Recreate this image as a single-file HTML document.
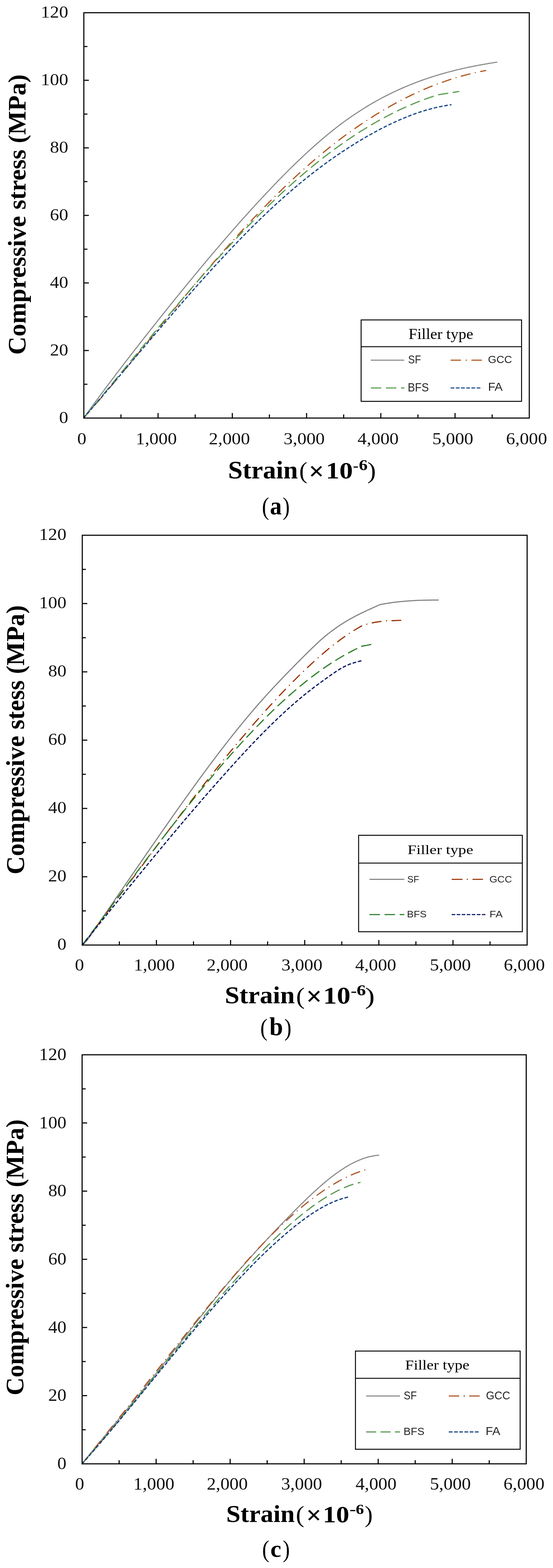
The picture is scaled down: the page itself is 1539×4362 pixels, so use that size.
<!DOCTYPE html>
<html><head><meta charset="utf-8"><title>Compressive stress-strain curves by filler type</title>
<style>html,body{margin:0;padding:0;background:#fff;}svg{display:block}</style></head>
<body><svg width="1539" height="4362" viewBox="0 0 1539 4362">
<rect width="1539" height="4362" fill="#fff"/>
<line x1="233.3" y1="1069.0" x2="243.3" y2="1069.0" stroke="#000" stroke-width="3"/>
<line x1="233.3" y1="975.1" x2="247.3" y2="975.1" stroke="#000" stroke-width="3"/>
<line x1="233.3" y1="881.1" x2="243.3" y2="881.1" stroke="#000" stroke-width="3"/>
<line x1="233.3" y1="787.1" x2="247.3" y2="787.1" stroke="#000" stroke-width="3"/>
<line x1="233.3" y1="693.2" x2="243.3" y2="693.2" stroke="#000" stroke-width="3"/>
<line x1="233.3" y1="599.2" x2="247.3" y2="599.2" stroke="#000" stroke-width="3"/>
<line x1="233.3" y1="505.2" x2="243.3" y2="505.2" stroke="#000" stroke-width="3"/>
<line x1="233.3" y1="411.3" x2="247.3" y2="411.3" stroke="#000" stroke-width="3"/>
<line x1="233.3" y1="317.3" x2="243.3" y2="317.3" stroke="#000" stroke-width="3"/>
<line x1="233.3" y1="223.3" x2="247.3" y2="223.3" stroke="#000" stroke-width="3"/>
<line x1="233.3" y1="129.4" x2="243.3" y2="129.4" stroke="#000" stroke-width="3"/>
<line x1="336.6" y1="1163.0" x2="336.6" y2="1153.0" stroke="#000" stroke-width="3"/>
<line x1="439.9" y1="1163.0" x2="439.9" y2="1149.0" stroke="#000" stroke-width="3"/>
<line x1="543.2" y1="1163.0" x2="543.2" y2="1153.0" stroke="#000" stroke-width="3"/>
<line x1="646.5" y1="1163.0" x2="646.5" y2="1149.0" stroke="#000" stroke-width="3"/>
<line x1="749.8" y1="1163.0" x2="749.8" y2="1153.0" stroke="#000" stroke-width="3"/>
<line x1="853.2" y1="1163.0" x2="853.2" y2="1149.0" stroke="#000" stroke-width="3"/>
<line x1="956.5" y1="1163.0" x2="956.5" y2="1153.0" stroke="#000" stroke-width="3"/>
<line x1="1059.8" y1="1163.0" x2="1059.8" y2="1149.0" stroke="#000" stroke-width="3"/>
<line x1="1163.1" y1="1163.0" x2="1163.1" y2="1153.0" stroke="#000" stroke-width="3"/>
<line x1="1266.4" y1="1163.0" x2="1266.4" y2="1149.0" stroke="#000" stroke-width="3"/>
<line x1="1369.7" y1="1163.0" x2="1369.7" y2="1153.0" stroke="#000" stroke-width="3"/>
<path d="M233.3,1162.0 C235.0,1159.7 240.0,1152.8 243.3,1148.2 C246.6,1143.6 250.0,1139.0 253.3,1134.5 C256.6,1130.0 260.0,1125.4 263.3,1120.9 C266.6,1116.4 270.0,1111.9 273.3,1107.4 C276.6,1102.9 280.0,1098.4 283.3,1093.9 C286.6,1089.4 290.0,1085.0 293.3,1080.5 C296.6,1076.0 300.0,1071.6 303.3,1067.2 C306.6,1062.8 310.0,1058.3 313.3,1053.9 C316.6,1049.5 320.0,1045.1 323.3,1040.7 C326.6,1036.3 330.0,1032.0 333.3,1027.6 C336.6,1023.2 340.0,1018.9 343.3,1014.5 C346.6,1010.1 350.0,1005.8 353.3,1001.5 C356.6,997.2 360.0,992.9 363.3,988.6 C366.6,984.3 370.0,980.0 373.3,975.7 C376.6,971.4 380.0,967.1 383.3,962.8 C386.6,958.5 390.0,954.2 393.3,950.0 C396.6,945.8 400.0,941.5 403.3,937.3 C406.6,933.1 410.0,928.8 413.3,924.6 C416.6,920.4 420.0,916.2 423.3,912.0 C426.6,907.8 430.0,903.6 433.3,899.4 C436.6,895.2 440.0,891.0 443.3,886.8 C446.6,882.6 450.0,878.5 453.3,874.3 C456.6,870.1 460.0,865.9 463.3,861.8 C466.6,857.6 470.0,853.5 473.3,849.4 C476.6,845.3 480.0,841.1 483.3,837.0 C486.6,832.9 490.0,828.7 493.3,824.6 C496.6,820.5 500.0,816.4 503.3,812.3 C506.6,808.2 510.0,804.2 513.3,800.1 C516.6,796.0 520.0,791.9 523.3,787.8 C526.6,783.7 530.0,779.7 533.3,775.7 C536.6,771.7 540.0,767.6 543.3,763.6 C546.6,759.6 550.0,755.5 553.3,751.5 C556.6,747.5 560.0,743.5 563.3,739.5 C566.6,735.5 570.0,731.5 573.3,727.5 C576.6,723.5 580.0,719.7 583.3,715.7 C586.6,711.8 590.0,707.7 593.3,703.8 C596.6,699.9 600.0,696.0 603.3,692.1 C606.6,688.2 610.0,684.3 613.3,680.4 C616.6,676.5 620.0,672.7 623.3,668.8 C626.6,664.9 630.0,661.1 633.3,657.2 C636.6,653.4 640.0,649.5 643.3,645.7 C646.6,641.9 650.0,638.1 653.3,634.3 C656.6,630.5 660.0,626.8 663.3,623.0 C666.6,619.2 670.0,615.5 673.3,611.7 C676.6,608.0 680.0,604.2 683.3,600.5 C686.6,596.8 690.0,593.1 693.3,589.4 C696.6,585.7 700.0,582.0 703.3,578.4 C706.6,574.8 710.0,571.1 713.3,567.5 C716.6,563.9 720.0,560.3 723.3,556.7 C726.6,553.1 730.0,549.5 733.3,545.9 C736.6,542.3 740.0,538.8 743.3,535.3 C746.6,531.8 750.0,528.2 753.3,524.7 C756.6,521.2 760.0,517.7 763.3,514.2 C766.6,510.7 770.0,507.3 773.3,503.9 C776.6,500.5 780.0,497.0 783.3,493.6 C786.6,490.2 790.0,486.9 793.3,483.5 C796.6,480.1 800.0,476.8 803.3,473.5 C806.6,470.2 810.0,466.9 813.3,463.6 C816.6,460.3 820.0,457.1 823.3,453.9 C826.6,450.7 830.0,447.5 833.3,444.3 C836.6,441.1 840.0,437.9 843.3,434.8 C846.6,431.7 850.0,428.6 853.3,425.5 C856.6,422.4 860.0,419.4 863.3,416.4 C866.6,413.4 870.0,410.4 873.3,407.4 C876.6,404.4 880.0,401.4 883.3,398.5 C886.6,395.6 890.0,392.8 893.3,389.9 C896.6,387.0 900.0,384.2 903.3,381.4 C906.6,378.6 910.0,375.8 913.3,373.1 C916.6,370.4 920.0,367.7 923.3,365.0 C926.6,362.3 930.0,359.7 933.3,357.1 C936.6,354.5 940.0,351.9 943.3,349.4 C946.6,346.8 950.0,344.3 953.3,341.8 C956.6,339.3 960.0,336.9 963.3,334.5 C966.6,332.1 970.0,329.7 973.3,327.4 C976.6,325.1 980.0,322.9 983.3,320.6 C986.6,318.4 990.0,316.1 993.3,313.9 C996.6,311.7 1000.0,309.5 1003.3,307.4 C1006.6,305.3 1010.0,303.2 1013.3,301.1 C1016.6,299.0 1020.0,296.9 1023.3,294.9 C1026.6,292.9 1030.0,290.9 1033.3,289.0 C1036.6,287.1 1040.0,285.2 1043.3,283.3 C1046.6,281.4 1050.0,279.5 1053.3,277.7 C1056.6,275.9 1060.0,274.1 1063.3,272.3 C1066.6,270.5 1070.0,268.8 1073.3,267.1 C1076.6,265.4 1080.0,263.8 1083.3,262.1 C1086.6,260.5 1090.0,258.8 1093.3,257.2 C1096.6,255.6 1100.0,254.1 1103.3,252.5 C1106.6,250.9 1110.0,249.4 1113.3,247.9 C1116.6,246.4 1120.0,244.9 1123.3,243.5 C1126.6,242.1 1130.0,240.7 1133.3,239.3 C1136.6,237.9 1140.0,236.5 1143.3,235.2 C1146.6,233.9 1150.0,232.6 1153.3,231.3 C1156.6,230.0 1160.0,228.7 1163.3,227.4 C1166.6,226.2 1170.0,225.0 1173.3,223.8 C1176.6,222.6 1180.0,221.3 1183.3,220.2 C1186.6,219.0 1190.0,218.0 1193.3,216.9 C1196.6,215.8 1200.0,214.7 1203.3,213.6 C1206.6,212.5 1210.0,211.4 1213.3,210.4 C1216.6,209.4 1220.0,208.4 1223.3,207.4 C1226.6,206.4 1230.0,205.4 1233.3,204.5 C1236.6,203.6 1240.0,202.6 1243.3,201.7 C1246.6,200.8 1250.0,200.0 1253.3,199.1 C1256.6,198.2 1260.0,197.3 1263.3,196.5 C1266.6,195.7 1270.0,194.8 1273.3,194.0 C1276.6,193.2 1280.0,192.5 1283.3,191.7 C1286.6,190.9 1290.0,190.1 1293.3,189.4 C1296.6,188.7 1300.0,188.0 1303.3,187.3 C1306.6,186.6 1310.0,185.9 1313.3,185.2 C1316.6,184.5 1320.0,183.8 1323.3,183.2 C1326.6,182.5 1330.0,181.9 1333.3,181.3 C1336.6,180.7 1340.0,180.1 1343.3,179.5 C1346.6,178.9 1350.0,178.4 1353.3,177.8 C1356.6,177.2 1360.0,176.7 1363.3,176.1 C1366.6,175.5 1370.1,175.0 1373.3,174.5 C1376.5,174.0 1381.0,173.3 1382.6,173.1" fill="none" stroke="#8a8a8a" stroke-width="3.0" stroke-linejoin="round" stroke-linecap="round"/>
<path d="M233.3,1162.0 C235.0,1160.1 240.0,1154.5 243.3,1150.7 C246.6,1146.9 250.0,1143.1 253.3,1139.3 C256.6,1135.5 260.0,1131.7 263.3,1127.9 C266.6,1124.1 270.0,1120.2 273.3,1116.3 C276.6,1112.4 280.0,1108.5 283.3,1104.6 C286.6,1100.7 290.0,1096.8 293.3,1092.9 C296.6,1089.0 300.0,1085.0 303.3,1081.1 C306.6,1077.1 310.0,1073.2 313.3,1069.2 C316.6,1065.2 320.0,1061.3 323.3,1057.3 C326.6,1053.3 330.0,1049.3 333.3,1045.3 C336.6,1041.3 340.0,1037.2 343.3,1033.2 C346.6,1029.2 350.0,1025.1 353.3,1021.1 C356.6,1017.1 360.0,1013.0 363.3,1009.0 C366.6,1005.0 370.0,1000.9 373.3,996.8 C376.6,992.7 380.0,988.7 383.3,984.6 C386.6,980.5 390.0,976.4 393.3,972.3 C396.6,968.2 400.0,964.2 403.3,960.1 C406.6,956.0 410.0,951.9 413.3,947.8 C416.6,943.7 420.0,939.7 423.3,935.6 C426.6,931.5 430.0,927.4 433.3,923.3 C436.6,919.2 440.0,915.1 443.3,911.0 C446.6,906.9 450.0,902.9 453.3,898.8 C456.6,894.7 460.0,890.6 463.3,886.5 C466.6,882.4 470.0,878.4 473.3,874.3 C476.6,870.2 480.0,866.1 483.3,862.1 C486.6,858.1 490.0,854.0 493.3,850.0 C496.6,846.0 500.0,841.9 503.3,837.9 C506.6,833.9 510.0,829.8 513.3,825.8 C516.6,821.8 520.0,817.8 523.3,813.8 C526.6,809.8 530.0,805.8 533.3,801.8 C536.6,797.8 540.0,793.8 543.3,789.9 C546.6,786.0 550.0,782.0 553.3,778.1 C556.6,774.2 560.0,770.2 563.3,766.3 C566.6,762.4 570.0,758.5 573.3,754.6 C576.6,750.7 580.0,746.9 583.3,743.0 C586.6,739.1 590.0,735.2 593.3,731.4 C596.6,727.5 600.0,723.7 603.3,719.9 C606.6,716.1 610.0,712.3 613.3,708.5 C616.6,704.7 620.0,701.0 623.3,697.2 C626.6,693.4 630.0,689.6 633.3,685.9 C636.6,682.2 640.0,678.5 643.3,674.8 C646.6,671.1 650.0,667.4 653.3,663.7 C656.6,660.0 660.0,656.4 663.3,652.7 C666.6,649.1 670.0,645.4 673.3,641.8 C676.6,638.2 680.0,634.6 683.3,631.0 C686.6,627.4 690.0,623.8 693.3,620.3 C696.6,616.8 700.0,613.2 703.3,609.7 C706.6,606.2 710.0,602.7 713.3,599.2 C716.6,595.7 720.0,592.2 723.3,588.8 C726.6,585.3 730.0,581.9 733.3,578.5 C736.6,575.1 740.0,571.7 743.3,568.3 C746.6,564.9 750.0,561.6 753.3,558.2 C756.6,554.9 760.0,551.5 763.3,548.2 C766.6,544.9 770.0,541.6 773.3,538.3 C776.6,535.0 780.0,531.8 783.3,528.6 C786.6,525.4 790.0,522.1 793.3,518.9 C796.6,515.7 800.0,512.5 803.3,509.4 C806.6,506.2 810.0,503.1 813.3,500.0 C816.6,496.9 820.0,493.9 823.3,490.8 C826.6,487.7 830.0,484.6 833.3,481.6 C836.6,478.6 840.0,475.6 843.3,472.6 C846.6,469.6 850.0,466.6 853.3,463.7 C856.6,460.8 860.0,457.9 863.3,455.0 C866.6,452.1 870.0,449.2 873.3,446.4 C876.6,443.5 880.0,440.7 883.3,437.9 C886.6,435.1 890.0,432.4 893.3,429.6 C896.6,426.8 900.0,424.0 903.3,421.3 C906.6,418.6 910.0,416.0 913.3,413.3 C916.6,410.6 920.0,407.9 923.3,405.3 C926.6,402.7 930.0,400.1 933.3,397.5 C936.6,394.9 940.0,392.4 943.3,389.9 C946.6,387.4 950.0,384.8 953.3,382.3 C956.6,379.8 960.0,377.3 963.3,374.9 C966.6,372.5 970.0,370.1 973.3,367.7 C976.6,365.3 980.0,362.9 983.3,360.5 C986.6,358.1 990.0,355.9 993.3,353.6 C996.6,351.3 1000.0,349.0 1003.3,346.7 C1006.6,344.4 1010.0,342.2 1013.3,340.0 C1016.6,337.8 1020.0,335.6 1023.3,333.4 C1026.6,331.2 1030.0,329.1 1033.3,327.0 C1036.6,324.9 1040.0,322.8 1043.3,320.7 C1046.6,318.6 1050.0,316.6 1053.3,314.6 C1056.6,312.6 1060.0,310.5 1063.3,308.5 C1066.6,306.5 1070.0,304.6 1073.3,302.7 C1076.6,300.8 1080.0,298.8 1083.3,296.9 C1086.6,295.0 1090.0,293.1 1093.3,291.3 C1096.6,289.5 1100.0,287.7 1103.3,285.9 C1106.6,284.1 1110.0,282.4 1113.3,280.6 C1116.6,278.9 1120.0,277.1 1123.3,275.4 C1126.6,273.7 1130.0,272.0 1133.3,270.4 C1136.6,268.8 1140.0,267.1 1143.3,265.5 C1146.6,263.9 1150.0,262.3 1153.3,260.7 C1156.6,259.1 1160.0,257.6 1163.3,256.1 C1166.6,254.6 1170.0,253.1 1173.3,251.6 C1176.6,250.1 1180.0,248.7 1183.3,247.3 C1186.6,245.9 1190.0,244.5 1193.3,243.1 C1196.6,241.7 1200.0,240.4 1203.3,239.1 C1206.6,237.8 1210.0,236.5 1213.3,235.2 C1216.6,233.9 1220.0,232.7 1223.3,231.5 C1226.6,230.3 1230.0,229.1 1233.3,227.9 C1236.6,226.7 1240.0,225.5 1243.3,224.4 C1246.6,223.3 1250.0,222.2 1253.3,221.1 C1256.6,220.0 1260.0,218.9 1263.3,217.9 C1266.6,216.9 1270.0,215.9 1273.3,214.9 C1276.6,213.9 1280.0,212.9 1283.3,212.0 C1286.6,211.1 1290.0,210.2 1293.3,209.3 C1296.6,208.4 1300.0,207.5 1303.3,206.7 C1306.6,205.8 1310.0,205.0 1313.3,204.2 C1316.6,203.4 1320.0,202.6 1323.3,201.9 C1326.6,201.2 1330.0,200.5 1333.3,199.8 C1336.6,199.1 1340.2,198.4 1343.3,197.8 C1346.4,197.2 1350.4,196.5 1351.8,196.2" fill="none" stroke="#b0531c" stroke-width="3.2" stroke-linejoin="round" stroke-linecap="round" stroke-dasharray="24.8 15.2 0.1 15.2"/>
<path d="M233.3,1162.0 C235.0,1160.0 240.0,1154.1 243.3,1150.1 C246.6,1146.1 250.0,1142.2 253.3,1138.2 C256.6,1134.2 260.0,1130.2 263.3,1126.2 C266.6,1122.2 270.0,1118.2 273.3,1114.2 C276.6,1110.2 280.0,1106.2 283.3,1102.2 C286.6,1098.2 290.0,1094.1 293.3,1090.1 C296.6,1086.1 300.0,1082.1 303.3,1078.1 C306.6,1074.1 310.0,1070.0 313.3,1065.9 C316.6,1061.9 320.0,1057.8 323.3,1053.8 C326.6,1049.8 330.0,1045.8 333.3,1041.7 C336.6,1037.7 340.0,1033.5 343.3,1029.5 C346.6,1025.5 350.0,1021.4 353.3,1017.4 C356.6,1013.4 360.0,1009.2 363.3,1005.2 C366.6,1001.2 370.0,997.2 373.3,993.1 C376.6,989.0 380.0,985.0 383.3,980.9 C386.6,976.8 390.0,972.8 393.3,968.8 C396.6,964.8 400.0,960.6 403.3,956.6 C406.6,952.6 410.0,948.5 413.3,944.5 C416.6,940.5 420.0,936.4 423.3,932.4 C426.6,928.4 430.0,924.3 433.3,920.3 C436.6,916.3 440.0,912.3 443.3,908.3 C446.6,904.3 450.0,900.3 453.3,896.3 C456.6,892.3 460.0,888.3 463.3,884.3 C466.6,880.3 470.0,876.3 473.3,872.3 C476.6,868.3 480.0,864.4 483.3,860.4 C486.6,856.4 490.0,852.5 493.3,848.5 C496.6,844.5 500.0,840.6 503.3,836.7 C506.6,832.8 510.0,828.9 513.3,825.0 C516.6,821.1 520.0,817.2 523.3,813.3 C526.6,809.4 530.0,805.5 533.3,801.6 C536.6,797.7 540.0,793.9 543.3,790.0 C546.6,786.1 550.0,782.3 553.3,778.5 C556.6,774.7 560.0,770.9 563.3,767.1 C566.6,763.3 570.0,759.5 573.3,755.7 C576.6,751.9 580.0,748.1 583.3,744.4 C586.6,740.6 590.0,736.9 593.3,733.2 C596.6,729.5 600.0,725.7 603.3,722.0 C606.6,718.3 610.0,714.7 613.3,711.0 C616.6,707.3 620.0,703.6 623.3,700.0 C626.6,696.4 630.0,692.8 633.3,689.2 C636.6,685.6 640.0,682.0 643.3,678.4 C646.6,674.8 650.0,671.2 653.3,667.7 C656.6,664.2 660.0,660.6 663.3,657.1 C666.6,653.6 670.0,650.1 673.3,646.6 C676.6,643.1 680.0,639.7 683.3,636.2 C686.6,632.8 690.0,629.3 693.3,625.9 C696.6,622.5 700.0,619.1 703.3,615.7 C706.6,612.3 710.0,609.0 713.3,605.6 C716.6,602.2 720.0,598.9 723.3,595.6 C726.6,592.3 730.0,589.1 733.3,585.8 C736.6,582.5 740.0,579.2 743.3,576.0 C746.6,572.8 750.0,569.5 753.3,566.3 C756.6,563.1 760.0,560.0 763.3,556.8 C766.6,553.6 770.0,550.4 773.3,547.3 C776.6,544.2 780.0,541.1 783.3,538.0 C786.6,534.9 790.0,531.8 793.3,528.8 C796.6,525.8 800.0,522.8 803.3,519.8 C806.6,516.8 810.0,513.8 813.3,510.8 C816.6,507.8 820.0,504.9 823.3,502.0 C826.6,499.1 830.0,496.2 833.3,493.3 C836.6,490.4 840.0,487.6 843.3,484.7 C846.6,481.8 850.0,479.0 853.3,476.2 C856.6,473.4 860.0,470.6 863.3,467.9 C866.6,465.1 870.0,462.4 873.3,459.7 C876.6,457.0 880.0,454.4 883.3,451.7 C886.6,449.0 890.0,446.3 893.3,443.7 C896.6,441.1 900.0,438.6 903.3,436.0 C906.6,433.4 910.0,430.8 913.3,428.3 C916.6,425.8 920.0,423.3 923.3,420.8 C926.6,418.3 930.0,415.8 933.3,413.4 C936.6,411.0 940.0,408.6 943.3,406.2 C946.6,403.8 950.0,401.5 953.3,399.1 C956.6,396.8 960.0,394.4 963.3,392.1 C966.6,389.8 970.0,387.5 973.3,385.3 C976.6,383.1 980.0,380.9 983.3,378.7 C986.6,376.5 990.0,374.3 993.3,372.1 C996.6,369.9 1000.0,367.8 1003.3,365.7 C1006.6,363.6 1010.0,361.6 1013.3,359.5 C1016.6,357.4 1020.0,355.4 1023.3,353.4 C1026.6,351.4 1030.0,349.4 1033.3,347.4 C1036.6,345.4 1040.0,343.5 1043.3,341.6 C1046.6,339.7 1050.0,337.9 1053.3,336.0 C1056.6,334.1 1060.0,332.2 1063.3,330.4 C1066.6,328.6 1070.0,326.9 1073.3,325.1 C1076.6,323.3 1080.0,321.5 1083.3,319.8 C1086.6,318.1 1090.0,316.4 1093.3,314.7 C1096.6,313.0 1100.0,311.4 1103.3,309.8 C1106.6,308.2 1110.0,306.6 1113.3,305.0 C1116.6,303.4 1120.0,301.9 1123.3,300.4 C1126.6,298.9 1130.0,297.4 1133.3,295.9 C1136.6,294.4 1140.0,293.0 1143.3,291.6 C1146.6,290.2 1150.0,288.8 1153.3,287.4 C1156.6,286.0 1160.0,284.7 1163.3,283.4 C1166.6,282.1 1170.0,280.8 1173.3,279.5 C1176.6,278.2 1180.0,277.0 1183.3,275.8 C1186.6,274.6 1190.0,273.4 1193.3,272.2 C1196.6,271.0 1200.0,269.9 1203.3,268.8 C1206.6,267.7 1210.7,266.3 1213.3,265.5 C1215.9,264.7 1216.2,264.4 1218.8,263.8 C1221.4,263.2 1225.5,262.7 1228.8,262.2 C1232.1,261.7 1235.5,261.1 1238.8,260.6 C1242.1,260.1 1245.5,259.5 1248.8,259.0 C1252.1,258.5 1255.5,257.9 1258.8,257.4 C1262.1,256.9 1265.8,256.3 1268.8,255.8 C1271.8,255.3 1275.6,254.7 1277.0,254.5" fill="none" stroke="#5b9b4f" stroke-width="3.2" stroke-linejoin="round" stroke-linecap="round" stroke-dasharray="25.8 15.2"/>
<path d="M233.3,1162.0 C235.0,1160.1 240.0,1154.3 243.3,1150.4 C246.6,1146.5 250.0,1142.7 253.3,1138.8 C256.6,1134.9 260.0,1131.1 263.3,1127.2 C266.6,1123.3 270.0,1119.4 273.3,1115.5 C276.6,1111.6 280.0,1107.8 283.3,1103.9 C286.6,1100.0 290.0,1096.0 293.3,1092.1 C296.6,1088.2 300.0,1084.3 303.3,1080.4 C306.6,1076.5 310.0,1072.5 313.3,1068.6 C316.6,1064.7 320.0,1060.8 323.3,1056.9 C326.6,1053.0 330.0,1049.0 333.3,1045.1 C336.6,1041.2 340.0,1037.2 343.3,1033.3 C346.6,1029.4 350.0,1025.4 353.3,1021.5 C356.6,1017.6 360.0,1013.6 363.3,1009.7 C366.6,1005.8 370.0,1001.8 373.3,997.9 C376.6,994.0 380.0,990.0 383.3,986.1 C386.6,982.2 390.0,978.2 393.3,974.3 C396.6,970.4 400.0,966.5 403.3,962.6 C406.6,958.7 410.0,954.7 413.3,950.8 C416.6,946.9 420.0,943.0 423.3,939.1 C426.6,935.2 430.0,931.2 433.3,927.3 C436.6,923.4 440.0,919.5 443.3,915.6 C446.6,911.7 450.0,907.9 453.3,904.0 C456.6,900.1 460.0,896.2 463.3,892.3 C466.6,888.4 470.0,884.6 473.3,880.7 C476.6,876.9 480.0,873.1 483.3,869.2 C486.6,865.4 490.0,861.5 493.3,857.6 C496.6,853.8 500.0,849.9 503.3,846.1 C506.6,842.3 510.0,838.5 513.3,834.7 C516.6,830.9 520.0,827.1 523.3,823.3 C526.6,819.5 530.0,815.7 533.3,811.9 C536.6,808.1 540.0,804.4 543.3,800.6 C546.6,796.9 550.0,793.1 553.3,789.4 C556.6,785.7 560.0,781.9 563.3,778.2 C566.6,774.5 570.0,770.8 573.3,767.1 C576.6,763.4 580.0,759.8 583.3,756.1 C586.6,752.4 590.0,748.8 593.3,745.1 C596.6,741.5 600.0,737.8 603.3,734.2 C606.6,730.6 610.0,727.0 613.3,723.4 C616.6,719.8 620.0,716.3 623.3,712.7 C626.6,709.1 630.0,705.5 633.3,702.0 C636.6,698.5 640.0,695.0 643.3,691.5 C646.6,688.0 650.0,684.5 653.3,681.0 C656.6,677.5 660.0,674.1 663.3,670.6 C666.6,667.1 670.0,663.7 673.3,660.3 C676.6,656.9 680.0,653.5 683.3,650.1 C686.6,646.7 690.0,643.4 693.3,640.0 C696.6,636.6 700.0,633.3 703.3,630.0 C706.6,626.7 710.0,623.5 713.3,620.2 C716.6,616.9 720.0,613.6 723.3,610.4 C726.6,607.2 730.0,604.0 733.3,600.8 C736.6,597.6 740.0,594.4 743.3,591.2 C746.6,588.0 750.0,584.9 753.3,581.8 C756.6,578.7 760.0,575.7 763.3,572.6 C766.6,569.5 770.0,566.4 773.3,563.4 C776.6,560.4 780.0,557.4 783.3,554.4 C786.6,551.4 790.0,548.5 793.3,545.5 C796.6,542.5 800.0,539.6 803.3,536.7 C806.6,533.8 810.0,531.0 813.3,528.1 C816.6,525.2 820.0,522.4 823.3,519.6 C826.6,516.8 830.0,514.0 833.3,511.3 C836.6,508.6 840.0,505.8 843.3,503.1 C846.6,500.4 850.0,497.7 853.3,495.0 C856.6,492.3 860.0,489.7 863.3,487.1 C866.6,484.5 870.0,481.9 873.3,479.3 C876.6,476.7 880.0,474.1 883.3,471.6 C886.6,469.1 890.0,466.6 893.3,464.1 C896.6,461.6 900.0,459.1 903.3,456.7 C906.6,454.2 910.0,451.8 913.3,449.4 C916.6,447.0 920.0,444.6 923.3,442.3 C926.6,440.0 930.0,437.6 933.3,435.3 C936.6,433.0 940.0,430.8 943.3,428.5 C946.6,426.2 950.0,423.9 953.3,421.7 C956.6,419.5 960.0,417.4 963.3,415.2 C966.6,413.0 970.0,410.8 973.3,408.7 C976.6,406.6 980.0,404.5 983.3,402.4 C986.6,400.3 990.0,398.2 993.3,396.2 C996.6,394.2 1000.0,392.2 1003.3,390.2 C1006.6,388.2 1010.0,386.2 1013.3,384.3 C1016.6,382.4 1020.0,380.4 1023.3,378.5 C1026.6,376.6 1030.0,374.8 1033.3,372.9 C1036.6,371.0 1040.0,369.2 1043.3,367.4 C1046.6,365.6 1050.0,363.8 1053.3,362.0 C1056.6,360.2 1060.0,358.5 1063.3,356.8 C1066.6,355.1 1070.0,353.4 1073.3,351.7 C1076.6,350.0 1080.0,348.4 1083.3,346.8 C1086.6,345.2 1090.0,343.7 1093.3,342.1 C1096.6,340.6 1100.0,339.0 1103.3,337.5 C1106.6,336.0 1110.0,334.4 1113.3,333.0 C1116.6,331.6 1120.0,330.2 1123.3,328.8 C1126.6,327.4 1130.0,326.0 1133.3,324.7 C1136.6,323.4 1140.0,322.1 1143.3,320.8 C1146.6,319.5 1150.0,318.3 1153.3,317.1 C1156.6,315.9 1160.0,314.7 1163.3,313.6 C1166.6,312.5 1170.0,311.4 1173.3,310.3 C1176.6,309.2 1180.0,308.2 1183.3,307.2 C1186.6,306.2 1190.0,305.3 1193.3,304.4 C1196.6,303.5 1200.0,302.6 1203.3,301.7 C1206.6,300.8 1210.0,300.0 1213.3,299.2 C1216.6,298.4 1220.0,297.7 1223.3,297.0 C1226.6,296.3 1230.0,295.6 1233.3,295.0 C1236.6,294.4 1239.7,293.9 1243.3,293.3 C1246.9,292.7 1253.0,291.8 1255.0,291.5" fill="none" stroke="#1b4a8a" stroke-width="3.4" stroke-linejoin="round" stroke-linecap="round" stroke-dasharray="7.2 7.8"/>
<rect x="233.3" y="35.4" width="1239.7" height="1127.6" fill="none" stroke="#000" stroke-width="3"/>
<text transform="translate(164.41 1176.84) scale(1.0750 1)" font-family="'Liberation Serif','Times New Roman',serif" font-weight="normal" font-size="47.30" fill="#111">0</text>
<text transform="translate(138.99 988.91) scale(1.0750 1)" font-family="'Liberation Serif','Times New Roman',serif" font-weight="normal" font-size="47.30" fill="#111">20</text>
<text transform="translate(138.99 800.97) scale(1.0750 1)" font-family="'Liberation Serif','Times New Roman',serif" font-weight="normal" font-size="47.30" fill="#111">40</text>
<text transform="translate(138.99 613.04) scale(1.0750 1)" font-family="'Liberation Serif','Times New Roman',serif" font-weight="normal" font-size="47.30" fill="#111">60</text>
<text transform="translate(138.99 425.11) scale(1.0750 1)" font-family="'Liberation Serif','Times New Roman',serif" font-weight="normal" font-size="47.30" fill="#111">80</text>
<text transform="translate(113.56 237.17) scale(1.0750 1)" font-family="'Liberation Serif','Times New Roman',serif" font-weight="normal" font-size="47.30" fill="#111">100</text>
<text transform="translate(113.56 49.24) scale(1.0750 1)" font-family="'Liberation Serif','Times New Roman',serif" font-weight="normal" font-size="47.30" fill="#111">120</text>
<text transform="translate(214.99 1235.90) scale(1.0750 1)" font-family="'Liberation Serif','Times New Roman',serif" font-weight="normal" font-size="47.30" fill="#111">0</text>
<text transform="translate(377.73 1235.90) scale(1.0750 1)" font-family="'Liberation Serif','Times New Roman',serif" font-weight="normal" font-size="47.30" fill="#111">1,000</text>
<text transform="translate(581.27 1235.90) scale(1.0750 1)" font-family="'Liberation Serif','Times New Roman',serif" font-weight="normal" font-size="47.30" fill="#111">2,000</text>
<text transform="translate(789.34 1235.90) scale(1.0750 1)" font-family="'Liberation Serif','Times New Roman',serif" font-weight="normal" font-size="47.30" fill="#111">3,000</text>
<text transform="translate(995.11 1235.90) scale(1.0750 1)" font-family="'Liberation Serif','Times New Roman',serif" font-weight="normal" font-size="47.30" fill="#111">4,000</text>
<text transform="translate(1202.89 1235.90) scale(1.0750 1)" font-family="'Liberation Serif','Times New Roman',serif" font-weight="normal" font-size="47.30" fill="#111">5,000</text>
<text transform="translate(1408.27 1235.90) scale(1.0750 1)" font-family="'Liberation Serif','Times New Roman',serif" font-weight="normal" font-size="47.30" fill="#111">6,000</text>
<text transform="translate(71.09 986.92) rotate(-90) scale(1 1.0016)" font-family="'Liberation Serif','Times New Roman',serif" font-weight="bold" font-size="70.48" fill="#000">Compressive stress (MPa)</text>
<text transform="translate(634.69 1330.61) scale(1.0545 1)" font-family="'Liberation Serif','Times New Roman',serif" font-weight="bold" font-size="69.10" fill="#000">Strain</text>
<text transform="translate(832.83 1331.31) scale(1.0391 1)" font-family="'Liberation Serif','Times New Roman',serif" font-weight="normal" font-size="65.67" fill="#000">(</text>
<text transform="translate(859.34 1335.27) scale(1.0399 1)" font-family="'Liberation Serif','Times New Roman',serif" font-weight="bold" font-size="72.53" fill="#000">×</text>
<text transform="translate(907.10 1330.55) scale(1.1506 1)" font-family="'Liberation Serif','Times New Roman',serif" font-weight="bold" font-size="65.19" fill="#000">10</text>
<text transform="translate(982.24 1309.30) scale(1.1827 1)" font-family="'Liberation Serif','Times New Roman',serif" font-weight="bold" font-size="40.00" fill="#000">-</text>
<text transform="translate(998.69 1307.99) scale(1.1831 1)" font-family="'Liberation Serif','Times New Roman',serif" font-weight="bold" font-size="41.19" fill="#000">6</text>
<text transform="translate(1022.24 1331.31) scale(1.0953 1)" font-family="'Liberation Serif','Times New Roman',serif" font-weight="normal" font-size="65.67" fill="#000">)</text>
<text transform="translate(728.90 1432.28) scale(0.8558 1)" font-family="'Liberation Serif','Times New Roman',serif" font-weight="normal" font-size="70.11" fill="#000">(</text>
<text transform="translate(751.23 1431.25) scale(0.9430 1)" font-family="'Liberation Serif','Times New Roman',serif" font-weight="bold" font-size="69.68" fill="#000">a</text>
<text transform="translate(786.83 1432.28) scale(0.8393 1)" font-family="'Liberation Serif','Times New Roman',serif" font-weight="normal" font-size="70.11" fill="#000">)</text>
<rect x="1005" y="890" width="446.5" height="226.5" fill="#fff" stroke="#000" stroke-width="2.6"/>
<line x1="1005" y1="964.5" x2="1451.5" y2="964.5" stroke="#000" stroke-width="2.6"/>
<text transform="translate(1137.10 942.60) scale(1.0357 1)" font-family="'Liberation Serif','Times New Roman',serif" font-weight="normal" font-size="41.98" fill="#000">Filler type</text>
<line x1="1032" y1="1002" x2="1125" y2="1002" stroke="#8a8a8a" stroke-width="3"/>
<text transform="translate(1135.84 1010.89) scale(0.8966 1)" font-family="'Liberation Sans',Arial,sans-serif" font-weight="normal" font-size="31.27" fill="#262626">SF</text>
<line x1="1254" y1="1002" x2="1341.5" y2="1002" stroke="#b0531c" stroke-width="3" stroke-dasharray="29 13 3 13"/>
<text transform="translate(1357.89 1010.10) scale(0.9938 1)" font-family="'Liberation Sans',Arial,sans-serif" font-weight="normal" font-size="30.42" fill="#262626">GCC</text>
<line x1="1032" y1="1079.3" x2="1125.5" y2="1079.3" stroke="#5b9b4f" stroke-width="3" stroke-dasharray="29 13"/>
<text transform="translate(1134.68 1088.87) scale(0.9108 1)" font-family="'Liberation Sans',Arial,sans-serif" font-weight="normal" font-size="33.24" fill="#262626">BFS</text>
<line x1="1254" y1="1079.3" x2="1341.5" y2="1079.3" stroke="#1b4a8a" stroke-width="3" stroke-dasharray="10.5 4"/>
<text transform="translate(1358.14 1087.49) scale(1.0633 1)" font-family="'Liberation Sans',Arial,sans-serif" font-weight="normal" font-size="31.27" fill="#262626">FA</text>
<line x1="229.0" y1="2534.0" x2="239.0" y2="2534.0" stroke="#000" stroke-width="3"/>
<line x1="229.0" y1="2439.0" x2="243.0" y2="2439.0" stroke="#000" stroke-width="3"/>
<line x1="229.0" y1="2344.0" x2="239.0" y2="2344.0" stroke="#000" stroke-width="3"/>
<line x1="229.0" y1="2249.0" x2="243.0" y2="2249.0" stroke="#000" stroke-width="3"/>
<line x1="229.0" y1="2154.0" x2="239.0" y2="2154.0" stroke="#000" stroke-width="3"/>
<line x1="229.0" y1="2059.0" x2="243.0" y2="2059.0" stroke="#000" stroke-width="3"/>
<line x1="229.0" y1="1964.0" x2="239.0" y2="1964.0" stroke="#000" stroke-width="3"/>
<line x1="229.0" y1="1869.0" x2="243.0" y2="1869.0" stroke="#000" stroke-width="3"/>
<line x1="229.0" y1="1774.0" x2="239.0" y2="1774.0" stroke="#000" stroke-width="3"/>
<line x1="229.0" y1="1679.0" x2="243.0" y2="1679.0" stroke="#000" stroke-width="3"/>
<line x1="229.0" y1="1584.0" x2="239.0" y2="1584.0" stroke="#000" stroke-width="3"/>
<line x1="332.2" y1="2629.0" x2="332.2" y2="2619.0" stroke="#000" stroke-width="3"/>
<line x1="435.3" y1="2629.0" x2="435.3" y2="2615.0" stroke="#000" stroke-width="3"/>
<line x1="538.5" y1="2629.0" x2="538.5" y2="2619.0" stroke="#000" stroke-width="3"/>
<line x1="641.7" y1="2629.0" x2="641.7" y2="2615.0" stroke="#000" stroke-width="3"/>
<line x1="744.8" y1="2629.0" x2="744.8" y2="2619.0" stroke="#000" stroke-width="3"/>
<line x1="848.0" y1="2629.0" x2="848.0" y2="2615.0" stroke="#000" stroke-width="3"/>
<line x1="951.2" y1="2629.0" x2="951.2" y2="2619.0" stroke="#000" stroke-width="3"/>
<line x1="1054.3" y1="2629.0" x2="1054.3" y2="2615.0" stroke="#000" stroke-width="3"/>
<line x1="1157.5" y1="2629.0" x2="1157.5" y2="2619.0" stroke="#000" stroke-width="3"/>
<line x1="1260.7" y1="2629.0" x2="1260.7" y2="2615.0" stroke="#000" stroke-width="3"/>
<line x1="1363.8" y1="2629.0" x2="1363.8" y2="2619.0" stroke="#000" stroke-width="3"/>
<path d="M229.0,2629.0 C230.7,2627.4 235.7,2623.2 239.0,2619.5 C242.3,2615.8 245.7,2611.4 249.0,2606.9 C252.3,2602.4 255.7,2597.3 259.0,2592.4 C262.3,2587.5 265.7,2582.4 269.0,2577.5 C272.3,2572.6 275.7,2567.6 279.0,2562.7 C282.3,2557.8 285.7,2552.9 289.0,2548.0 C292.3,2543.1 295.7,2538.2 299.0,2533.3 C302.3,2528.4 305.7,2523.6 309.0,2518.7 C312.3,2513.8 315.7,2508.9 319.0,2504.1 C322.3,2499.2 325.7,2494.4 329.0,2489.6 C332.3,2484.8 335.7,2479.9 339.0,2475.1 C342.3,2470.3 345.7,2465.4 349.0,2460.6 C352.3,2455.8 355.7,2451.0 359.0,2446.2 C362.3,2441.4 365.7,2436.5 369.0,2431.7 C372.3,2426.9 375.7,2422.0 379.0,2417.2 C382.3,2412.4 385.7,2407.5 389.0,2402.7 C392.3,2397.9 395.7,2393.0 399.0,2388.2 C402.3,2383.4 405.7,2378.5 409.0,2373.7 C412.3,2368.9 415.7,2364.0 419.0,2359.2 C422.3,2354.4 425.7,2349.6 429.0,2344.8 C432.3,2340.0 435.7,2335.2 439.0,2330.4 C442.3,2325.6 445.7,2320.8 449.0,2316.0 C452.3,2311.2 455.7,2306.5 459.0,2301.7 C462.3,2296.9 465.7,2292.2 469.0,2287.4 C472.3,2282.6 475.7,2277.8 479.0,2273.1 C482.3,2268.3 485.7,2263.6 489.0,2258.9 C492.3,2254.2 495.7,2249.5 499.0,2244.8 C502.3,2240.1 505.7,2235.4 509.0,2230.7 C512.3,2226.0 515.7,2221.3 519.0,2216.7 C522.3,2212.0 525.7,2207.4 529.0,2202.8 C532.3,2198.2 535.7,2193.5 539.0,2188.9 C542.3,2184.3 545.7,2179.7 549.0,2175.1 C552.3,2170.5 555.7,2166.0 559.0,2161.5 C562.3,2157.0 565.7,2152.4 569.0,2147.9 C572.3,2143.4 575.7,2138.9 579.0,2134.4 C582.3,2129.9 585.7,2125.4 589.0,2121.0 C592.3,2116.6 595.7,2112.2 599.0,2107.8 C602.3,2103.4 605.7,2099.0 609.0,2094.6 C612.3,2090.2 615.7,2085.9 619.0,2081.6 C622.3,2077.3 625.7,2073.0 629.0,2068.7 C632.3,2064.4 635.7,2060.1 639.0,2055.9 C642.3,2051.7 645.7,2047.5 649.0,2043.3 C652.3,2039.1 655.7,2034.9 659.0,2030.8 C662.3,2026.7 665.7,2022.6 669.0,2018.5 C672.3,2014.4 675.7,2010.3 679.0,2006.3 C682.3,2002.3 685.7,1998.3 689.0,1994.3 C692.3,1990.3 695.7,1986.3 699.0,1982.4 C702.3,1978.5 705.7,1974.6 709.0,1970.7 C712.3,1966.8 715.7,1963.0 719.0,1959.2 C722.3,1955.4 725.7,1951.7 729.0,1947.9 C732.3,1944.2 735.7,1940.4 739.0,1936.7 C742.3,1933.0 745.7,1929.3 749.0,1925.7 C752.3,1922.1 755.7,1918.5 759.0,1914.9 C762.3,1911.3 765.7,1907.8 769.0,1904.2 C772.3,1900.7 775.7,1897.1 779.0,1893.6 C782.3,1890.1 785.7,1886.7 789.0,1883.2 C792.3,1879.7 795.7,1876.2 799.0,1872.8 C802.3,1869.4 805.7,1866.0 809.0,1862.6 C812.3,1859.2 815.7,1855.8 819.0,1852.4 C822.3,1849.0 825.7,1845.7 829.0,1842.3 C832.3,1838.9 835.7,1835.6 839.0,1832.3 C842.3,1829.0 845.7,1825.6 849.0,1822.3 C852.3,1819.0 855.7,1815.7 859.0,1812.4 C862.3,1809.1 865.7,1805.8 869.0,1802.6 C872.3,1799.4 875.7,1796.2 879.0,1793.0 C882.3,1789.8 885.7,1786.7 889.0,1783.7 C892.3,1780.7 895.7,1777.8 899.0,1774.9 C902.3,1772.0 905.7,1769.2 909.0,1766.5 C912.3,1763.8 915.7,1761.1 919.0,1758.6 C922.3,1756.1 925.5,1753.9 928.8,1751.5 C932.1,1749.1 935.5,1746.6 938.8,1744.3 C942.1,1742.0 945.5,1739.7 948.8,1737.5 C952.1,1735.3 955.5,1733.2 958.8,1731.2 C962.1,1729.2 965.5,1727.1 968.8,1725.2 C972.1,1723.3 975.5,1721.4 978.8,1719.6 C982.1,1717.8 985.5,1716.0 988.8,1714.2 C992.1,1712.5 995.5,1710.8 998.8,1709.1 C1002.1,1707.4 1005.5,1705.8 1008.8,1704.2 C1012.1,1702.6 1015.5,1701.0 1018.8,1699.5 C1022.1,1698.0 1025.5,1696.4 1028.8,1694.9 C1032.1,1693.4 1035.5,1691.9 1038.8,1690.4 C1042.1,1688.9 1045.8,1687.2 1048.8,1685.9 C1051.8,1684.6 1054.0,1683.2 1057.0,1682.3 C1060.0,1681.4 1063.7,1680.9 1067.0,1680.3 C1070.3,1679.7 1073.7,1679.1 1077.0,1678.6 C1080.3,1678.0 1083.7,1677.5 1087.0,1677.0 C1090.3,1676.5 1093.7,1676.0 1097.0,1675.6 C1100.3,1675.2 1103.7,1674.8 1107.0,1674.4 C1110.3,1674.0 1113.7,1673.7 1117.0,1673.4 C1120.3,1673.1 1123.7,1672.8 1127.0,1672.5 C1130.3,1672.2 1133.7,1671.9 1137.0,1671.7 C1140.3,1671.5 1143.7,1671.3 1147.0,1671.1 C1150.3,1670.9 1153.7,1670.7 1157.0,1670.5 C1160.3,1670.3 1163.7,1670.2 1167.0,1670.1 C1170.3,1670.0 1173.7,1669.9 1177.0,1669.8 C1180.3,1669.7 1183.7,1669.7 1187.0,1669.6 C1190.3,1669.5 1193.7,1669.5 1197.0,1669.4 C1200.3,1669.4 1203.2,1669.3 1207.0,1669.3 C1210.8,1669.3 1217.7,1669.2 1219.8,1669.2" fill="none" stroke="#808080" stroke-width="3.0" stroke-linejoin="round" stroke-linecap="round"/>
<path d="M229.0,2629.0 C230.7,2626.8 235.7,2620.2 239.0,2615.9 C242.3,2611.6 245.7,2607.3 249.0,2602.9 C252.3,2598.5 255.7,2594.1 259.0,2589.7 C262.3,2585.3 265.7,2581.0 269.0,2576.6 C272.3,2572.2 275.7,2567.8 279.0,2563.4 C282.3,2559.0 285.7,2554.5 289.0,2550.1 C292.3,2545.7 295.7,2541.3 299.0,2536.9 C302.3,2532.5 305.7,2528.0 309.0,2523.6 C312.3,2519.2 315.7,2514.8 319.0,2510.3 C322.3,2505.9 325.7,2501.4 329.0,2496.9 C332.3,2492.4 335.7,2488.0 339.0,2483.6 C342.3,2479.2 345.7,2474.8 349.0,2470.3 C352.3,2465.9 355.7,2461.4 359.0,2456.9 C362.3,2452.4 365.7,2447.9 369.0,2443.5 C372.3,2439.1 375.7,2434.6 379.0,2430.2 C382.3,2425.8 385.7,2421.2 389.0,2416.8 C392.3,2412.4 395.7,2407.9 399.0,2403.5 C402.3,2399.1 405.7,2394.5 409.0,2390.1 C412.3,2385.7 415.7,2381.2 419.0,2376.8 C422.3,2372.4 425.7,2367.9 429.0,2363.5 C432.3,2359.1 435.7,2354.6 439.0,2350.2 C442.3,2345.8 445.7,2341.3 449.0,2336.9 C452.3,2332.5 455.7,2328.1 459.0,2323.7 C462.3,2319.3 465.7,2314.8 469.0,2310.4 C472.3,2306.0 475.7,2301.7 479.0,2297.3 C482.3,2292.9 485.7,2288.5 489.0,2284.1 C492.3,2279.7 495.7,2275.4 499.0,2271.0 C502.3,2266.6 505.7,2262.2 509.0,2257.9 C512.3,2253.6 515.7,2249.2 519.0,2244.9 C522.3,2240.6 525.7,2236.3 529.0,2232.0 C532.3,2227.7 535.7,2223.3 539.0,2219.0 C542.3,2214.7 545.7,2210.5 549.0,2206.2 C552.3,2201.9 555.7,2197.7 559.0,2193.4 C562.3,2189.1 565.7,2184.8 569.0,2180.6 C572.3,2176.4 575.7,2172.2 579.0,2168.0 C582.3,2163.8 585.7,2159.6 589.0,2155.4 C592.3,2151.2 595.7,2147.0 599.0,2142.8 C602.3,2138.6 605.7,2134.5 609.0,2130.4 C612.3,2126.3 615.7,2122.1 619.0,2118.0 C622.3,2113.9 625.7,2109.8 629.0,2105.7 C632.3,2101.6 635.7,2097.6 639.0,2093.5 C642.3,2089.4 645.7,2085.4 649.0,2081.4 C652.3,2077.4 655.7,2073.4 659.0,2069.4 C662.3,2065.4 665.7,2061.4 669.0,2057.5 C672.3,2053.6 675.7,2049.6 679.0,2045.7 C682.3,2041.8 685.7,2037.9 689.0,2034.0 C692.3,2030.1 695.7,2026.2 699.0,2022.3 C702.3,2018.4 705.7,2014.6 709.0,2010.8 C712.3,2007.0 715.7,2003.3 719.0,1999.5 C722.3,1995.7 725.7,1992.0 729.0,1988.2 C732.3,1984.5 735.7,1980.7 739.0,1977.0 C742.3,1973.3 745.7,1969.7 749.0,1966.0 C752.3,1962.3 755.7,1958.7 759.0,1955.1 C762.3,1951.5 765.7,1948.0 769.0,1944.4 C772.3,1940.8 775.7,1937.2 779.0,1933.7 C782.3,1930.2 785.7,1926.7 789.0,1923.2 C792.3,1919.7 795.7,1916.3 799.0,1912.9 C802.3,1909.5 805.7,1906.1 809.0,1902.7 C812.3,1899.3 815.7,1895.9 819.0,1892.6 C822.3,1889.3 825.7,1886.0 829.0,1882.7 C832.3,1879.4 835.7,1876.1 839.0,1872.9 C842.3,1869.7 845.7,1866.5 849.0,1863.3 C852.3,1860.1 855.7,1857.0 859.0,1853.9 C862.3,1850.8 865.7,1847.7 869.0,1844.6 C872.3,1841.5 875.7,1838.5 879.0,1835.5 C882.3,1832.5 885.7,1829.5 889.0,1826.6 C892.3,1823.7 895.7,1820.8 899.0,1818.0 C902.3,1815.2 905.7,1812.3 909.0,1809.5 C912.3,1806.7 915.7,1804.0 919.0,1801.3 C922.3,1798.6 925.7,1796.0 929.0,1793.4 C932.3,1790.8 935.7,1788.2 939.0,1785.7 C942.3,1783.2 945.7,1780.6 949.0,1778.2 C952.3,1775.8 955.7,1773.4 959.0,1771.1 C962.3,1768.8 965.7,1766.4 969.0,1764.2 C972.3,1762.0 975.7,1759.8 979.0,1757.7 C982.3,1755.6 985.7,1753.5 989.0,1751.5 C992.3,1749.5 995.8,1747.4 999.0,1745.6 C1002.2,1743.8 1004.8,1742.0 1008.0,1740.6 C1011.2,1739.2 1014.7,1738.3 1018.0,1737.3 C1021.3,1736.3 1024.7,1735.4 1028.0,1734.6 C1031.3,1733.8 1034.7,1733.1 1038.0,1732.4 C1041.3,1731.7 1044.7,1731.1 1048.0,1730.6 C1051.3,1730.1 1054.7,1729.6 1058.0,1729.2 C1061.3,1728.8 1064.7,1728.4 1068.0,1728.1 C1071.3,1727.8 1074.7,1727.5 1078.0,1727.3 C1081.3,1727.1 1084.7,1726.9 1088.0,1726.7 C1091.3,1726.5 1094.7,1726.4 1098.0,1726.3 C1101.3,1726.2 1104.7,1726.1 1108.0,1726.0 C1111.3,1725.9 1114.9,1725.8 1118.0,1725.7 C1121.1,1725.6 1125.2,1725.5 1126.7,1725.5" fill="none" stroke="#993300" stroke-width="3.2" stroke-linejoin="round" stroke-linecap="round" stroke-dasharray="24.8 15.2 0.1 15.2"/>
<path d="M229.0,2629.0 C230.7,2626.8 235.7,2620.1 239.0,2615.7 C242.3,2611.2 245.7,2606.8 249.0,2602.3 C252.3,2597.9 255.7,2593.4 259.0,2589.0 C262.3,2584.6 265.7,2580.1 269.0,2575.6 C272.3,2571.1 275.7,2566.7 279.0,2562.2 C282.3,2557.7 285.7,2553.3 289.0,2548.8 C292.3,2544.3 295.7,2539.9 299.0,2535.4 C302.3,2530.9 305.7,2526.5 309.0,2522.0 C312.3,2517.5 315.7,2513.1 319.0,2508.6 C322.3,2504.1 325.7,2499.6 329.0,2495.2 C332.3,2490.8 335.7,2486.3 339.0,2481.9 C342.3,2477.5 345.7,2472.9 349.0,2468.5 C352.3,2464.1 355.7,2459.6 359.0,2455.2 C362.3,2450.8 365.7,2446.2 369.0,2441.8 C372.3,2437.4 375.7,2432.9 379.0,2428.5 C382.3,2424.1 385.7,2419.7 389.0,2415.3 C392.3,2410.9 395.7,2406.4 399.0,2402.0 C402.3,2397.6 405.7,2393.2 409.0,2388.8 C412.3,2384.4 415.7,2380.1 419.0,2375.7 C422.3,2371.3 425.7,2367.0 429.0,2362.6 C432.3,2358.2 435.7,2353.8 439.0,2349.5 C442.3,2345.2 445.7,2340.8 449.0,2336.5 C452.3,2332.2 455.7,2327.8 459.0,2323.5 C462.3,2319.2 465.7,2314.9 469.0,2310.6 C472.3,2306.3 475.7,2302.1 479.0,2297.8 C482.3,2293.5 485.7,2289.2 489.0,2285.0 C492.3,2280.8 495.7,2276.5 499.0,2272.3 C502.3,2268.1 505.7,2263.8 509.0,2259.6 C512.3,2255.4 515.7,2251.3 519.0,2247.1 C522.3,2242.9 525.7,2238.8 529.0,2234.6 C532.3,2230.4 535.7,2226.3 539.0,2222.2 C542.3,2218.1 545.7,2214.0 549.0,2209.9 C552.3,2205.8 555.7,2201.7 559.0,2197.6 C562.3,2193.5 565.7,2189.5 569.0,2185.5 C572.3,2181.5 575.7,2177.5 579.0,2173.5 C582.3,2169.5 585.7,2165.5 589.0,2161.5 C592.3,2157.5 595.7,2153.6 599.0,2149.7 C602.3,2145.8 605.7,2141.8 609.0,2137.9 C612.3,2134.0 615.7,2130.2 619.0,2126.3 C622.3,2122.5 625.7,2118.6 629.0,2114.8 C632.3,2111.0 635.7,2107.2 639.0,2103.4 C642.3,2099.6 645.7,2095.9 649.0,2092.2 C652.3,2088.5 655.7,2084.7 659.0,2081.0 C662.3,2077.3 665.7,2073.7 669.0,2070.0 C672.3,2066.3 675.7,2062.7 679.0,2059.1 C682.3,2055.5 685.7,2052.0 689.0,2048.4 C692.3,2044.9 695.7,2041.3 699.0,2037.8 C702.3,2034.3 705.7,2030.8 709.0,2027.3 C712.3,2023.8 715.7,2020.4 719.0,2017.0 C722.3,2013.6 725.7,2010.2 729.0,2006.8 C732.3,2003.4 735.7,2000.1 739.0,1996.8 C742.3,1993.5 745.7,1990.2 749.0,1986.9 C752.3,1983.6 755.7,1980.4 759.0,1977.2 C762.3,1974.0 765.7,1970.9 769.0,1967.7 C772.3,1964.5 775.7,1961.4 779.0,1958.3 C782.3,1955.2 785.7,1952.1 789.0,1949.1 C792.3,1946.1 795.7,1943.1 799.0,1940.1 C802.3,1937.1 805.7,1934.1 809.0,1931.2 C812.3,1928.3 815.7,1925.4 819.0,1922.6 C822.3,1919.8 825.7,1916.9 829.0,1914.1 C832.3,1911.3 835.7,1908.5 839.0,1905.8 C842.3,1903.1 845.7,1900.4 849.0,1897.7 C852.3,1895.0 855.7,1892.4 859.0,1889.8 C862.3,1887.2 865.7,1884.6 869.0,1882.1 C872.3,1879.6 875.7,1877.1 879.0,1874.6 C882.3,1872.1 885.7,1869.7 889.0,1867.3 C892.3,1864.9 895.7,1862.5 899.0,1860.2 C902.3,1857.9 905.7,1855.5 909.0,1853.3 C912.3,1851.0 915.7,1848.9 919.0,1846.7 C922.3,1844.5 925.7,1842.3 929.0,1840.2 C932.3,1838.1 935.7,1836.0 939.0,1834.0 C942.3,1832.0 945.7,1830.0 949.0,1828.0 C952.3,1826.0 955.7,1824.2 959.0,1822.3 C962.3,1820.4 965.7,1818.6 969.0,1816.8 C972.3,1815.0 975.7,1813.2 979.0,1811.5 C982.3,1809.8 985.7,1808.0 989.0,1806.4 C992.3,1804.8 995.8,1803.2 999.0,1801.7 C1002.2,1800.2 1004.8,1798.6 1008.0,1797.6 C1011.2,1796.6 1014.7,1796.3 1018.0,1795.7 C1021.3,1795.1 1024.7,1794.4 1028.0,1793.8 C1031.3,1793.2 1035.3,1792.4 1038.0,1791.9 C1040.7,1791.4 1043.3,1790.9 1044.4,1790.7" fill="none" stroke="#2a7d25" stroke-width="3.2" stroke-linejoin="round" stroke-linecap="round" stroke-dasharray="25.8 15.2"/>
<path d="M229.0,2629.0 C230.7,2626.9 235.7,2620.7 239.0,2616.6 C242.3,2612.5 245.7,2608.3 249.0,2604.2 C252.3,2600.0 255.7,2595.8 259.0,2591.7 C262.3,2587.5 265.7,2583.4 269.0,2579.3 C272.3,2575.2 275.7,2571.0 279.0,2566.9 C282.3,2562.8 285.7,2558.6 289.0,2554.5 C292.3,2550.4 295.7,2546.3 299.0,2542.2 C302.3,2538.1 305.7,2533.9 309.0,2529.8 C312.3,2525.7 315.7,2521.5 319.0,2517.4 C322.3,2513.3 325.7,2509.2 329.0,2505.1 C332.3,2501.0 335.7,2496.9 339.0,2492.8 C342.3,2488.7 345.7,2484.5 349.0,2480.4 C352.3,2476.3 355.7,2472.2 359.0,2468.1 C362.3,2464.0 365.7,2460.0 369.0,2455.9 C372.3,2451.8 375.7,2447.7 379.0,2443.6 C382.3,2439.5 385.7,2435.5 389.0,2431.4 C392.3,2427.3 395.7,2423.3 399.0,2419.2 C402.3,2415.1 405.7,2411.1 409.0,2407.0 C412.3,2402.9 415.7,2398.9 419.0,2394.9 C422.3,2390.9 425.7,2386.8 429.0,2382.8 C432.3,2378.8 435.7,2374.7 439.0,2370.7 C442.3,2366.7 445.7,2362.6 449.0,2358.6 C452.3,2354.6 455.7,2350.6 459.0,2346.6 C462.3,2342.6 465.7,2338.6 469.0,2334.6 C472.3,2330.6 475.7,2326.7 479.0,2322.7 C482.3,2318.7 485.7,2314.8 489.0,2310.8 C492.3,2306.8 495.7,2302.9 499.0,2298.9 C502.3,2294.9 505.7,2291.0 509.0,2287.1 C512.3,2283.2 515.7,2279.2 519.0,2275.3 C522.3,2271.4 525.7,2267.5 529.0,2263.6 C532.3,2259.7 535.7,2255.8 539.0,2251.9 C542.3,2248.0 545.7,2244.2 549.0,2240.3 C552.3,2236.4 555.7,2232.5 559.0,2228.7 C562.3,2224.8 565.7,2221.0 569.0,2217.2 C572.3,2213.4 575.7,2209.5 579.0,2205.7 C582.3,2201.9 585.7,2198.1 589.0,2194.3 C592.3,2190.5 595.7,2186.7 599.0,2182.9 C602.3,2179.1 605.7,2175.3 609.0,2171.6 C612.3,2167.8 615.7,2164.1 619.0,2160.4 C622.3,2156.7 625.7,2152.9 629.0,2149.2 C632.3,2145.5 635.7,2141.7 639.0,2138.0 C642.3,2134.3 645.7,2130.7 649.0,2127.0 C652.3,2123.3 655.7,2119.7 659.0,2116.0 C662.3,2112.3 665.7,2108.7 669.0,2105.1 C672.3,2101.5 675.7,2097.9 679.0,2094.3 C682.3,2090.7 685.7,2087.2 689.0,2083.6 C692.3,2080.0 695.7,2076.5 699.0,2073.0 C702.3,2069.5 705.7,2066.0 709.0,2062.5 C712.3,2059.0 715.7,2055.6 719.0,2052.2 C722.3,2048.8 725.7,2045.3 729.0,2041.9 C732.3,2038.5 735.7,2035.1 739.0,2031.8 C742.3,2028.5 745.7,2025.2 749.0,2021.9 C752.3,2018.6 755.7,2015.3 759.0,2012.1 C762.3,2008.8 765.7,2005.6 769.0,2002.4 C772.3,1999.2 775.7,1996.0 779.0,1992.9 C782.3,1989.8 785.7,1986.7 789.0,1983.6 C792.3,1980.5 795.7,1977.4 799.0,1974.4 C802.3,1971.4 805.7,1968.5 809.0,1965.5 C812.3,1962.5 815.7,1959.6 819.0,1956.7 C822.3,1953.8 825.7,1950.9 829.0,1948.1 C832.3,1945.3 835.7,1942.5 839.0,1939.7 C842.3,1936.9 845.7,1934.2 849.0,1931.5 C852.3,1928.8 855.7,1926.2 859.0,1923.6 C862.3,1921.0 865.7,1918.3 869.0,1915.8 C872.3,1913.2 875.7,1910.8 879.0,1908.3 C882.3,1905.8 885.7,1903.4 889.0,1900.9 C892.3,1898.5 895.7,1896.0 899.0,1893.6 C902.3,1891.2 905.7,1888.7 909.0,1886.3 C912.3,1883.9 915.7,1881.5 919.0,1879.2 C922.3,1876.9 925.7,1874.6 929.0,1872.3 C932.3,1870.0 935.7,1867.7 939.0,1865.6 C942.3,1863.5 945.7,1861.4 949.0,1859.5 C952.3,1857.6 955.7,1855.8 959.0,1854.1 C962.3,1852.4 965.7,1850.8 969.0,1849.4 C972.3,1848.0 975.7,1846.8 979.0,1845.7 C982.3,1844.6 985.7,1843.6 989.0,1842.6 C992.3,1841.6 996.4,1840.6 999.0,1839.9 C1001.6,1839.2 1003.5,1838.7 1004.4,1838.5" fill="none" stroke="#0c1a62" stroke-width="3.4" stroke-linejoin="round" stroke-linecap="round" stroke-dasharray="7.2 7.8"/>
<rect x="229.0" y="1489.0" width="1238.0" height="1140.0" fill="none" stroke="#000" stroke-width="3"/>
<text transform="translate(159.45 2642.09) scale(1.0800 1)" font-family="'Liberation Serif','Times New Roman',serif" font-weight="normal" font-size="47.00" fill="#111">0</text>
<text transform="translate(134.07 2452.09) scale(1.0800 1)" font-family="'Liberation Serif','Times New Roman',serif" font-weight="normal" font-size="47.00" fill="#111">20</text>
<text transform="translate(134.07 2262.09) scale(1.0800 1)" font-family="'Liberation Serif','Times New Roman',serif" font-weight="normal" font-size="47.00" fill="#111">40</text>
<text transform="translate(134.07 2072.09) scale(1.0800 1)" font-family="'Liberation Serif','Times New Roman',serif" font-weight="normal" font-size="47.00" fill="#111">60</text>
<text transform="translate(134.07 1882.09) scale(1.0800 1)" font-family="'Liberation Serif','Times New Roman',serif" font-weight="normal" font-size="47.00" fill="#111">80</text>
<text transform="translate(108.69 1692.09) scale(1.0800 1)" font-family="'Liberation Serif','Times New Roman',serif" font-weight="normal" font-size="47.00" fill="#111">100</text>
<text transform="translate(108.69 1502.09) scale(1.0800 1)" font-family="'Liberation Serif','Times New Roman',serif" font-weight="normal" font-size="47.00" fill="#111">120</text>
<text transform="translate(208.41 2700.20) scale(1.0800 1)" font-family="'Liberation Serif','Times New Roman',serif" font-weight="normal" font-size="47.00" fill="#111">0</text>
<text transform="translate(372.13 2700.20) scale(1.0800 1)" font-family="'Liberation Serif','Times New Roman',serif" font-weight="normal" font-size="47.00" fill="#111">1,000</text>
<text transform="translate(575.27 2700.20) scale(1.0800 1)" font-family="'Liberation Serif','Times New Roman',serif" font-weight="normal" font-size="47.00" fill="#111">2,000</text>
<text transform="translate(783.14 2700.20) scale(1.0800 1)" font-family="'Liberation Serif','Times New Roman',serif" font-weight="normal" font-size="47.00" fill="#111">3,000</text>
<text transform="translate(988.50 2700.20) scale(1.0800 1)" font-family="'Liberation Serif','Times New Roman',serif" font-weight="normal" font-size="47.00" fill="#111">4,000</text>
<text transform="translate(1196.29 2700.20) scale(1.0800 1)" font-family="'Liberation Serif','Times New Roman',serif" font-weight="normal" font-size="47.00" fill="#111">5,000</text>
<text transform="translate(1402.07 2700.20) scale(1.0800 1)" font-family="'Liberation Serif','Times New Roman',serif" font-weight="normal" font-size="47.00" fill="#111">6,000</text>
<text transform="translate(67.28 2432.42) rotate(-90) scale(1 1.0247)" font-family="'Liberation Serif','Times New Roman',serif" font-weight="bold" font-size="70.35" fill="#000">Compressive stess (MPa)</text>
<text transform="translate(625.68 2791.31) scale(1.0636 1)" font-family="'Liberation Serif','Times New Roman',serif" font-weight="bold" font-size="68.66" fill="#000">Strain</text>
<text transform="translate(823.92 2792.61) scale(1.1108 1)" font-family="'Liberation Serif','Times New Roman',serif" font-weight="normal" font-size="65.67" fill="#000">(</text>
<text transform="translate(851.73 2796.93) scale(1.0383 1)" font-family="'Liberation Serif','Times New Roman',serif" font-weight="bold" font-size="75.42" fill="#000">×</text>
<text transform="translate(899.54 2791.83) scale(1.1319 1)" font-family="'Liberation Serif','Times New Roman',serif" font-weight="bold" font-size="66.96" fill="#000">10</text>
<text transform="translate(975.98 2769.80) scale(1.2981 1)" font-family="'Liberation Serif','Times New Roman',serif" font-weight="bold" font-size="40.00" fill="#000">-</text>
<text transform="translate(992.40 2769.27) scale(1.2021 1)" font-family="'Liberation Serif','Times New Roman',serif" font-weight="bold" font-size="42.84" fill="#000">6</text>
<text transform="translate(1015.75 2792.61) scale(1.2417 1)" font-family="'Liberation Serif','Times New Roman',serif" font-weight="normal" font-size="65.67" fill="#000">)</text>
<text transform="translate(724.26 2881.10) scale(0.8866 1)" font-family="'Liberation Serif','Times New Roman',serif" font-weight="normal" font-size="68.56" fill="#000">(</text>
<text transform="translate(749.78 2880.29) scale(0.9539 1)" font-family="'Liberation Serif','Times New Roman',serif" font-weight="bold" font-size="71.29" fill="#000">b</text>
<text transform="translate(791.21 2881.10) scale(0.8696 1)" font-family="'Liberation Serif','Times New Roman',serif" font-weight="normal" font-size="68.56" fill="#000">)</text>
<rect x="998" y="2323.7" width="455.70000000000005" height="268.3000000000002" fill="#fff" stroke="#000" stroke-width="2.6"/>
<line x1="998" y1="2401" x2="1453.7" y2="2401" stroke="#000" stroke-width="2.6"/>
<text transform="translate(1134.17 2375.70) scale(1.2062 1)" font-family="'Liberation Serif','Times New Roman',serif" font-weight="normal" font-size="36.64" fill="#000">Filler type</text>
<line x1="1028.3" y1="2446.3" x2="1125.2" y2="2446.3" stroke="#808080" stroke-width="3"/>
<text transform="translate(1133.54 2455.44) scale(0.9818 1)" font-family="'Liberation Sans',Arial,sans-serif" font-weight="normal" font-size="26.34" fill="#262626">SF</text>
<line x1="1257" y1="2446.3" x2="1344.1" y2="2446.3" stroke="#993300" stroke-width="3" stroke-dasharray="30 12 3 13"/>
<text transform="translate(1361.98 2455.44) scale(1.0766 1)" font-family="'Liberation Sans',Arial,sans-serif" font-weight="normal" font-size="26.34" fill="#262626">GCC</text>
<line x1="1028.3" y1="2544.2" x2="1125.2" y2="2544.2" stroke="#2a7d25" stroke-width="3" stroke-dasharray="29 13"/>
<text transform="translate(1132.45 2551.84) scale(1.0681 1)" font-family="'Liberation Sans',Arial,sans-serif" font-weight="normal" font-size="26.34" fill="#262626">BFS</text>
<line x1="1257" y1="2544.2" x2="1354.7" y2="2544.2" stroke="#0c1a62" stroke-width="3" stroke-dasharray="10 4"/>
<text transform="translate(1362.31 2551.84) scale(1.1324 1)" font-family="'Liberation Sans',Arial,sans-serif" font-weight="normal" font-size="26.34" fill="#262626">FA</text>
<line x1="228.5" y1="3977.4" x2="238.5" y2="3977.4" stroke="#000" stroke-width="3"/>
<line x1="228.5" y1="3882.5" x2="242.5" y2="3882.5" stroke="#000" stroke-width="3"/>
<line x1="228.5" y1="3787.7" x2="238.5" y2="3787.7" stroke="#000" stroke-width="3"/>
<line x1="228.5" y1="3692.9" x2="242.5" y2="3692.9" stroke="#000" stroke-width="3"/>
<line x1="228.5" y1="3598.1" x2="238.5" y2="3598.1" stroke="#000" stroke-width="3"/>
<line x1="228.5" y1="3503.2" x2="242.5" y2="3503.2" stroke="#000" stroke-width="3"/>
<line x1="228.5" y1="3408.4" x2="238.5" y2="3408.4" stroke="#000" stroke-width="3"/>
<line x1="228.5" y1="3313.6" x2="242.5" y2="3313.6" stroke="#000" stroke-width="3"/>
<line x1="228.5" y1="3218.8" x2="238.5" y2="3218.8" stroke="#000" stroke-width="3"/>
<line x1="228.5" y1="3123.9" x2="242.5" y2="3123.9" stroke="#000" stroke-width="3"/>
<line x1="228.5" y1="3029.1" x2="238.5" y2="3029.1" stroke="#000" stroke-width="3"/>
<line x1="331.5" y1="4072.2" x2="331.5" y2="4062.2" stroke="#000" stroke-width="3"/>
<line x1="434.5" y1="4072.2" x2="434.5" y2="4058.2" stroke="#000" stroke-width="3"/>
<line x1="537.5" y1="4072.2" x2="537.5" y2="4062.2" stroke="#000" stroke-width="3"/>
<line x1="640.5" y1="4072.2" x2="640.5" y2="4058.2" stroke="#000" stroke-width="3"/>
<line x1="743.5" y1="4072.2" x2="743.5" y2="4062.2" stroke="#000" stroke-width="3"/>
<line x1="846.5" y1="4072.2" x2="846.5" y2="4058.2" stroke="#000" stroke-width="3"/>
<line x1="949.5" y1="4072.2" x2="949.5" y2="4062.2" stroke="#000" stroke-width="3"/>
<line x1="1052.5" y1="4072.2" x2="1052.5" y2="4058.2" stroke="#000" stroke-width="3"/>
<line x1="1155.5" y1="4072.2" x2="1155.5" y2="4062.2" stroke="#000" stroke-width="3"/>
<line x1="1258.5" y1="4072.2" x2="1258.5" y2="4058.2" stroke="#000" stroke-width="3"/>
<line x1="1361.5" y1="4072.2" x2="1361.5" y2="4062.2" stroke="#000" stroke-width="3"/>
<path d="M228.5,4072.0 C230.2,4069.9 235.2,4063.7 238.5,4059.6 C241.8,4055.5 245.2,4051.3 248.5,4047.2 C251.8,4043.1 255.2,4039.0 258.5,4034.9 C261.8,4030.8 265.2,4026.8 268.5,4022.7 C271.8,4018.6 275.2,4014.6 278.5,4010.6 C281.8,4006.6 285.2,4002.5 288.5,3998.5 C291.8,3994.5 295.2,3990.4 298.5,3986.4 C301.8,3982.4 305.2,3978.4 308.5,3974.4 C311.8,3970.4 315.2,3966.4 318.5,3962.4 C321.8,3958.4 325.2,3954.3 328.5,3950.3 C331.8,3946.3 335.2,3942.3 338.5,3938.3 C341.8,3934.3 345.2,3930.2 348.5,3926.2 C351.8,3922.2 355.2,3918.2 358.5,3914.2 C361.8,3910.2 365.2,3906.1 368.5,3902.1 C371.8,3898.1 375.2,3894.0 378.5,3889.9 C381.8,3885.8 385.2,3881.8 388.5,3877.7 C391.8,3873.6 395.2,3869.6 398.5,3865.5 C401.8,3861.4 405.2,3857.3 408.5,3853.2 C411.8,3849.1 415.2,3845.0 418.5,3840.8 C421.8,3836.7 425.2,3832.5 428.5,3828.3 C431.8,3824.1 435.2,3820.0 438.5,3815.8 C441.8,3811.6 445.2,3807.4 448.5,3803.2 C451.8,3799.0 455.2,3794.8 458.5,3790.5 C461.8,3786.2 465.2,3781.9 468.5,3777.7 C471.8,3773.4 475.2,3769.2 478.5,3765.0 C481.8,3760.8 485.2,3756.5 488.5,3752.2 C491.8,3747.9 495.2,3743.6 498.5,3739.3 C501.8,3735.0 505.2,3730.8 508.5,3726.5 C511.8,3722.2 515.2,3718.0 518.5,3713.7 C521.8,3709.4 525.2,3705.2 528.5,3700.9 C531.8,3696.6 535.2,3692.3 538.5,3688.1 C541.8,3683.8 545.2,3679.6 548.5,3675.4 C551.8,3671.2 555.2,3667.0 558.5,3662.8 C561.8,3658.6 565.2,3654.4 568.5,3650.2 C571.8,3646.0 575.2,3641.8 578.5,3637.6 C581.8,3633.4 585.2,3629.3 588.5,3625.2 C591.8,3621.1 595.2,3617.0 598.5,3612.9 C601.8,3608.8 605.2,3604.8 608.5,3600.7 C611.8,3596.6 615.2,3592.6 618.5,3588.6 C621.8,3584.6 625.2,3580.7 628.5,3576.7 C631.8,3572.7 635.2,3568.7 638.5,3564.8 C641.8,3560.9 645.2,3557.0 648.5,3553.1 C651.8,3549.2 655.2,3545.3 658.5,3541.5 C661.8,3537.7 665.2,3533.9 668.5,3530.1 C671.8,3526.3 675.2,3522.5 678.5,3518.7 C681.8,3514.9 685.2,3511.2 688.5,3507.5 C691.8,3503.8 695.2,3500.0 698.5,3496.3 C701.8,3492.6 705.2,3489.0 708.5,3485.3 C711.8,3481.6 715.2,3477.9 718.5,3474.3 C721.8,3470.7 725.2,3467.1 728.5,3463.5 C731.8,3459.9 735.2,3456.3 738.5,3452.7 C741.8,3449.1 745.2,3445.5 748.5,3442.0 C751.8,3438.5 755.2,3435.0 758.5,3431.5 C761.8,3428.0 765.2,3424.5 768.5,3421.0 C771.8,3417.5 775.2,3414.0 778.5,3410.5 C781.8,3407.0 785.2,3403.6 788.5,3400.2 C791.8,3396.8 795.2,3393.3 798.5,3389.9 C801.8,3386.5 805.2,3383.2 808.5,3379.8 C811.8,3376.4 815.2,3373.0 818.5,3369.6 C821.8,3366.2 825.2,3362.9 828.5,3359.6 C831.8,3356.3 835.2,3353.0 838.5,3349.7 C841.8,3346.4 845.2,3343.2 848.5,3339.9 C851.8,3336.7 855.2,3333.4 858.5,3330.2 C861.8,3327.0 865.2,3323.9 868.5,3320.8 C871.8,3317.7 875.2,3314.6 878.5,3311.6 C881.8,3308.6 885.2,3305.5 888.5,3302.6 C891.8,3299.7 895.2,3296.8 898.5,3293.9 C901.8,3291.1 905.2,3288.2 908.5,3285.5 C911.8,3282.8 915.2,3280.0 918.5,3277.4 C921.8,3274.8 925.2,3272.2 928.5,3269.7 C931.8,3267.2 935.2,3264.8 938.5,3262.4 C941.8,3260.0 945.2,3257.7 948.5,3255.4 C951.8,3253.2 955.2,3251.0 958.5,3248.9 C961.8,3246.8 965.2,3244.8 968.5,3242.9 C971.8,3241.0 975.2,3239.1 978.5,3237.3 C981.8,3235.5 985.2,3233.9 988.5,3232.3 C991.8,3230.7 995.2,3229.2 998.5,3227.8 C1001.8,3226.4 1005.2,3225.0 1008.5,3223.8 C1011.8,3222.6 1015.2,3221.5 1018.5,3220.5 C1021.8,3219.5 1025.2,3218.6 1028.5,3217.8 C1031.8,3217.0 1035.2,3216.3 1038.5,3215.7 C1041.8,3215.1 1045.9,3214.6 1048.5,3214.3 C1051.1,3214.0 1053.1,3213.9 1054.0,3213.8" fill="none" stroke="#8a8a8a" stroke-width="3.0" stroke-linejoin="round" stroke-linecap="round"/>
<path d="M228.5,4072.0 C230.2,4069.9 235.2,4063.7 238.5,4059.6 C241.8,4055.5 245.2,4051.4 248.5,4047.3 C251.8,4043.2 255.2,4039.0 258.5,4034.9 C261.8,4030.8 265.2,4026.6 268.5,4022.5 C271.8,4018.4 275.2,4014.2 278.5,4010.1 C281.8,4006.0 285.2,4001.9 288.5,3997.8 C291.8,3993.7 295.2,3989.5 298.5,3985.3 C301.8,3981.2 305.2,3977.0 308.5,3972.9 C311.8,3968.8 315.2,3964.6 318.5,3960.5 C321.8,3956.4 325.2,3952.2 328.5,3948.1 C331.8,3943.9 335.2,3939.8 338.5,3935.6 C341.8,3931.4 345.2,3927.2 348.5,3923.1 C351.8,3918.9 355.2,3914.8 358.5,3910.7 C361.8,3906.5 365.2,3902.4 368.5,3898.2 C371.8,3894.0 375.2,3889.9 378.5,3885.7 C381.8,3881.5 385.2,3877.4 388.5,3873.2 C391.8,3869.0 395.2,3864.8 398.5,3860.6 C401.8,3856.4 405.2,3852.3 408.5,3848.1 C411.8,3843.9 415.2,3839.7 418.5,3835.5 C421.8,3831.3 425.2,3827.2 428.5,3823.0 C431.8,3818.8 435.2,3814.6 438.5,3810.4 C441.8,3806.2 445.2,3802.0 448.5,3797.8 C451.8,3793.6 455.2,3789.4 458.5,3785.2 C461.8,3781.0 465.2,3776.8 468.5,3772.6 C471.8,3768.4 475.2,3764.2 478.5,3760.0 C481.8,3755.8 485.2,3751.6 488.5,3747.4 C491.8,3743.2 495.2,3739.0 498.5,3734.8 C501.8,3730.6 505.2,3726.5 508.5,3722.3 C511.8,3718.1 515.2,3713.9 518.5,3709.7 C521.8,3705.5 525.2,3701.3 528.5,3697.2 C531.8,3693.0 535.2,3688.9 538.5,3684.8 C541.8,3680.7 545.2,3676.5 548.5,3672.4 C551.8,3668.3 555.2,3664.1 558.5,3660.0 C561.8,3655.9 565.2,3651.8 568.5,3647.7 C571.8,3643.6 575.2,3639.6 578.5,3635.5 C581.8,3631.4 585.2,3627.4 588.5,3623.3 C591.8,3619.2 595.2,3615.2 598.5,3611.2 C601.8,3607.2 605.2,3603.2 608.5,3599.2 C611.8,3595.2 615.2,3591.2 618.5,3587.2 C621.8,3583.2 625.2,3579.3 628.5,3575.4 C631.8,3571.5 635.2,3567.5 638.5,3563.6 C641.8,3559.7 645.2,3555.9 648.5,3552.0 C651.8,3548.1 655.2,3544.2 658.5,3540.4 C661.8,3536.6 665.2,3532.8 668.5,3529.0 C671.8,3525.2 675.2,3521.4 678.5,3517.7 C681.8,3513.9 685.2,3510.2 688.5,3506.5 C691.8,3502.8 695.2,3499.2 698.5,3495.5 C701.8,3491.8 705.2,3488.2 708.5,3484.6 C711.8,3481.0 715.2,3477.4 718.5,3473.8 C721.8,3470.2 725.2,3466.8 728.5,3463.3 C731.8,3459.8 735.2,3456.2 738.5,3452.8 C741.8,3449.4 745.2,3446.0 748.5,3442.6 C751.8,3439.2 755.2,3435.8 758.5,3432.5 C761.8,3429.2 765.2,3425.9 768.5,3422.6 C771.8,3419.3 775.2,3416.1 778.5,3412.9 C781.8,3409.7 785.2,3406.5 788.5,3403.4 C791.8,3400.3 795.2,3397.2 798.5,3394.1 C801.8,3391.0 805.2,3388.0 808.5,3385.0 C811.8,3382.0 815.2,3379.0 818.5,3376.1 C821.8,3373.2 825.2,3370.3 828.5,3367.5 C831.8,3364.7 835.2,3361.8 838.5,3359.0 C841.8,3356.2 845.2,3353.5 848.5,3350.8 C851.8,3348.1 855.2,3345.5 858.5,3342.9 C861.8,3340.3 865.2,3337.7 868.5,3335.2 C871.8,3332.7 875.2,3330.1 878.5,3327.7 C881.8,3325.2 885.2,3322.9 888.5,3320.5 C891.8,3318.1 895.2,3315.8 898.5,3313.5 C901.8,3311.2 905.2,3309.0 908.5,3306.8 C911.8,3304.6 915.2,3302.5 918.5,3300.4 C921.8,3298.3 925.2,3296.3 928.5,3294.3 C931.8,3292.3 935.2,3290.4 938.5,3288.5 C941.8,3286.6 945.2,3284.7 948.5,3282.9 C951.8,3281.1 955.2,3279.4 958.5,3277.7 C961.8,3276.0 965.2,3274.4 968.5,3272.8 C971.8,3271.2 975.2,3269.8 978.5,3268.3 C981.8,3266.9 985.2,3265.4 988.5,3264.1 C991.8,3262.8 995.2,3261.4 998.5,3260.2 C1001.8,3259.0 1005.2,3257.9 1008.5,3256.8 C1011.8,3255.7 1015.1,3254.7 1018.5,3253.7 C1021.9,3252.7 1027.0,3251.4 1028.7,3250.9" fill="none" stroke="#aa5426" stroke-width="3.2" stroke-linejoin="round" stroke-linecap="round" stroke-dasharray="24.8 15.2 0.1 15.2"/>
<path d="M228.5,4072.0 C230.2,4070.1 235.2,4064.5 238.5,4060.7 C241.8,4056.9 245.2,4053.0 248.5,4049.2 C251.8,4045.4 255.2,4041.6 258.5,4037.7 C261.8,4033.8 265.2,4029.9 268.5,4026.0 C271.8,4022.1 275.2,4018.2 278.5,4014.3 C281.8,4010.4 285.2,4006.4 288.5,4002.5 C291.8,3998.6 295.2,3994.6 298.5,3990.6 C301.8,3986.6 305.2,3982.7 308.5,3978.7 C311.8,3974.7 315.2,3970.7 318.5,3966.7 C321.8,3962.7 325.2,3958.6 328.5,3954.6 C331.8,3950.6 335.2,3946.6 338.5,3942.5 C341.8,3938.4 345.2,3934.4 348.5,3930.3 C351.8,3926.2 355.2,3922.2 358.5,3918.1 C361.8,3914.0 365.2,3910.0 368.5,3905.9 C371.8,3901.8 375.2,3897.7 378.5,3893.6 C381.8,3889.5 385.2,3885.4 388.5,3881.3 C391.8,3877.2 395.2,3873.0 398.5,3868.9 C401.8,3864.8 405.2,3860.7 408.5,3856.6 C411.8,3852.5 415.2,3848.3 418.5,3844.2 C421.8,3840.1 425.2,3835.9 428.5,3831.8 C431.8,3827.7 435.2,3823.5 438.5,3819.4 C441.8,3815.3 445.2,3811.1 448.5,3807.0 C451.8,3802.9 455.2,3798.8 458.5,3794.7 C461.8,3790.6 465.2,3786.4 468.5,3782.3 C471.8,3778.2 475.2,3774.0 478.5,3769.9 C481.8,3765.8 485.2,3761.7 488.5,3757.6 C491.8,3753.5 495.2,3749.4 498.5,3745.3 C501.8,3741.2 505.2,3737.2 508.5,3733.1 C511.8,3729.0 515.2,3724.9 518.5,3720.8 C521.8,3716.7 525.2,3712.7 528.5,3708.6 C531.8,3704.5 535.2,3700.5 538.5,3696.5 C541.8,3692.5 545.2,3688.4 548.5,3684.4 C551.8,3680.4 555.2,3676.4 558.5,3672.4 C561.8,3668.4 565.2,3664.4 568.5,3660.4 C571.8,3656.4 575.2,3652.4 578.5,3648.5 C581.8,3644.6 585.2,3640.6 588.5,3636.7 C591.8,3632.8 595.2,3628.9 598.5,3625.0 C601.8,3621.1 605.2,3617.2 608.5,3613.3 C611.8,3609.4 615.2,3605.5 618.5,3601.7 C621.8,3597.8 625.2,3594.0 628.5,3590.2 C631.8,3586.4 635.2,3582.7 638.5,3578.9 C641.8,3575.1 645.2,3571.3 648.5,3567.6 C651.8,3563.8 655.2,3560.1 658.5,3556.4 C661.8,3552.7 665.2,3549.1 668.5,3545.4 C671.8,3541.8 675.2,3538.1 678.5,3534.5 C681.8,3530.9 685.2,3527.2 688.5,3523.6 C691.8,3520.0 695.2,3516.5 698.5,3513.0 C701.8,3509.5 705.2,3505.9 708.5,3502.4 C711.8,3498.9 715.2,3495.4 718.5,3492.0 C721.8,3488.6 725.2,3485.2 728.5,3481.8 C731.8,3478.4 735.2,3475.0 738.5,3471.7 C741.8,3468.3 745.2,3465.0 748.5,3461.7 C751.8,3458.4 755.2,3455.1 758.5,3451.9 C761.8,3448.7 765.2,3445.5 768.5,3442.3 C771.8,3439.1 775.2,3435.9 778.5,3432.8 C781.8,3429.7 785.2,3426.7 788.5,3423.6 C791.8,3420.5 795.2,3417.5 798.5,3414.5 C801.8,3411.5 805.2,3408.5 808.5,3405.6 C811.8,3402.7 815.2,3399.8 818.5,3396.9 C821.8,3394.0 825.2,3391.2 828.5,3388.4 C831.8,3385.6 835.2,3382.8 838.5,3380.1 C841.8,3377.4 845.2,3374.7 848.5,3372.1 C851.8,3369.5 855.2,3366.9 858.5,3364.4 C861.8,3361.9 865.2,3359.4 868.5,3356.9 C871.8,3354.4 875.2,3352.0 878.5,3349.7 C881.8,3347.3 885.2,3345.1 888.5,3342.8 C891.8,3340.6 895.2,3338.3 898.5,3336.2 C901.8,3334.0 905.2,3331.9 908.5,3329.9 C911.8,3327.9 915.2,3325.8 918.5,3323.9 C921.8,3322.0 925.2,3320.1 928.5,3318.3 C931.8,3316.5 935.2,3314.8 938.5,3313.1 C941.8,3311.4 945.2,3309.8 948.5,3308.2 C951.8,3306.6 955.2,3305.2 958.5,3303.8 C961.8,3302.4 965.2,3301.0 968.5,3299.7 C971.8,3298.4 975.2,3297.2 978.5,3296.1 C981.8,3295.0 984.6,3294.1 988.5,3293.0 C992.4,3291.9 999.8,3290.1 1002.0,3289.5" fill="none" stroke="#55964f" stroke-width="3.2" stroke-linejoin="round" stroke-linecap="round" stroke-dasharray="25.8 15.2"/>
<path d="M228.5,4072.0 C230.2,4070.1 235.2,4064.6 238.5,4060.8 C241.8,4057.0 245.2,4053.2 248.5,4049.4 C251.8,4045.6 255.2,4041.8 258.5,4038.0 C261.8,4034.2 265.2,4030.3 268.5,4026.5 C271.8,4022.7 275.2,4018.8 278.5,4014.9 C281.8,4011.0 285.2,4007.1 288.5,4003.2 C291.8,3999.3 295.2,3995.3 298.5,3991.4 C301.8,3987.5 305.2,3983.6 308.5,3979.6 C311.8,3975.6 315.2,3971.7 318.5,3967.7 C321.8,3963.7 325.2,3959.8 328.5,3955.8 C331.8,3951.8 335.2,3947.8 338.5,3943.8 C341.8,3939.8 345.2,3935.7 348.5,3931.7 C351.8,3927.7 355.2,3923.7 358.5,3919.7 C361.8,3915.7 365.2,3911.6 368.5,3907.6 C371.8,3903.6 375.2,3899.5 378.5,3895.4 C381.8,3891.3 385.2,3887.2 388.5,3883.2 C391.8,3879.1 395.2,3875.1 398.5,3871.1 C401.8,3867.1 405.2,3863.0 408.5,3858.9 C411.8,3854.8 415.2,3850.8 418.5,3846.7 C421.8,3842.6 425.2,3838.5 428.5,3834.4 C431.8,3830.3 435.2,3826.3 438.5,3822.2 C441.8,3818.1 445.2,3814.1 448.5,3810.0 C451.8,3805.9 455.2,3802.0 458.5,3797.9 C461.8,3793.8 465.2,3789.8 468.5,3785.7 C471.8,3781.6 475.2,3777.6 478.5,3773.5 C481.8,3769.4 485.2,3765.4 488.5,3761.4 C491.8,3757.4 495.2,3753.4 498.5,3749.4 C501.8,3745.4 505.2,3741.3 508.5,3737.3 C511.8,3733.3 515.2,3729.3 518.5,3725.3 C521.8,3721.3 525.2,3717.4 528.5,3713.4 C531.8,3709.4 535.2,3705.4 538.5,3701.5 C541.8,3697.6 545.2,3693.6 548.5,3689.7 C551.8,3685.8 555.2,3681.8 558.5,3677.9 C561.8,3674.0 565.2,3670.1 568.5,3666.2 C571.8,3662.3 575.2,3658.4 578.5,3654.6 C581.8,3650.8 585.2,3646.9 588.5,3643.1 C591.8,3639.3 595.2,3635.4 598.5,3631.6 C601.8,3627.8 605.2,3624.1 608.5,3620.3 C611.8,3616.6 615.2,3612.8 618.5,3609.1 C621.8,3605.4 625.2,3601.6 628.5,3597.9 C631.8,3594.2 635.2,3590.6 638.5,3586.9 C641.8,3583.2 645.2,3579.6 648.5,3576.0 C651.8,3572.4 655.2,3568.8 658.5,3565.2 C661.8,3561.6 665.2,3558.0 668.5,3554.5 C671.8,3551.0 675.2,3547.5 678.5,3544.0 C681.8,3540.5 685.2,3536.9 688.5,3533.5 C691.8,3530.1 695.2,3526.7 698.5,3523.3 C701.8,3519.9 705.2,3516.5 708.5,3513.2 C711.8,3509.8 715.2,3506.5 718.5,3503.2 C721.8,3499.9 725.2,3496.6 728.5,3493.4 C731.8,3490.2 735.2,3487.0 738.5,3483.8 C741.8,3480.6 745.2,3477.4 748.5,3474.3 C751.8,3471.2 755.2,3468.1 758.5,3465.0 C761.8,3461.9 765.2,3458.9 768.5,3455.9 C771.8,3452.9 775.2,3449.9 778.5,3446.9 C781.8,3443.9 785.2,3441.1 788.5,3438.2 C791.8,3435.3 795.2,3432.4 798.5,3429.6 C801.8,3426.8 805.2,3424.1 808.5,3421.3 C811.8,3418.6 815.2,3415.8 818.5,3413.1 C821.8,3410.4 825.2,3407.8 828.5,3405.2 C831.8,3402.6 835.2,3400.0 838.5,3397.5 C841.8,3395.0 845.2,3392.5 848.5,3390.1 C851.8,3387.7 855.2,3385.3 858.5,3383.0 C861.8,3380.7 865.2,3378.4 868.5,3376.2 C871.8,3374.0 875.2,3371.8 878.5,3369.7 C881.8,3367.6 885.2,3365.6 888.5,3363.6 C891.8,3361.6 895.2,3359.7 898.5,3357.9 C901.8,3356.1 905.2,3354.3 908.5,3352.6 C911.8,3350.9 915.2,3349.3 918.5,3347.7 C921.8,3346.1 925.2,3344.6 928.5,3343.2 C931.8,3341.8 935.2,3340.4 938.5,3339.2 C941.8,3337.9 945.2,3336.8 948.5,3335.7 C951.8,3334.6 955.3,3333.6 958.5,3332.7 C961.7,3331.8 966.1,3330.9 967.6,3330.5" fill="none" stroke="#133f80" stroke-width="3.4" stroke-linejoin="round" stroke-linecap="round" stroke-dasharray="7.2 7.8"/>
<rect x="228.5" y="2934.3" width="1236.0" height="1137.9" fill="none" stroke="#000" stroke-width="3"/>
<text transform="translate(159.49 4086.85) scale(1.0600 1)" font-family="'Liberation Serif','Times New Roman',serif" font-weight="normal" font-size="47.80" fill="#111">0</text>
<text transform="translate(134.16 3897.20) scale(1.0600 1)" font-family="'Liberation Serif','Times New Roman',serif" font-weight="normal" font-size="47.80" fill="#111">20</text>
<text transform="translate(134.16 3707.55) scale(1.0600 1)" font-family="'Liberation Serif','Times New Roman',serif" font-weight="normal" font-size="47.80" fill="#111">40</text>
<text transform="translate(134.16 3517.90) scale(1.0600 1)" font-family="'Liberation Serif','Times New Roman',serif" font-weight="normal" font-size="47.80" fill="#111">60</text>
<text transform="translate(134.16 3328.25) scale(1.0600 1)" font-family="'Liberation Serif','Times New Roman',serif" font-weight="normal" font-size="47.80" fill="#111">80</text>
<text transform="translate(108.82 3138.60) scale(1.0600 1)" font-family="'Liberation Serif','Times New Roman',serif" font-weight="normal" font-size="47.80" fill="#111">100</text>
<text transform="translate(108.82 2948.95) scale(1.0600 1)" font-family="'Liberation Serif','Times New Roman',serif" font-weight="normal" font-size="47.80" fill="#111">120</text>
<text transform="translate(209.03 4143.80) scale(1.0600 1)" font-family="'Liberation Serif','Times New Roman',serif" font-weight="normal" font-size="47.80" fill="#111">0</text>
<text transform="translate(371.33 4143.80) scale(1.0600 1)" font-family="'Liberation Serif','Times New Roman',serif" font-weight="normal" font-size="47.80" fill="#111">1,000</text>
<text transform="translate(575.47 4143.80) scale(1.0600 1)" font-family="'Liberation Serif','Times New Roman',serif" font-weight="normal" font-size="47.80" fill="#111">2,000</text>
<text transform="translate(782.45 4143.80) scale(1.0600 1)" font-family="'Liberation Serif','Times New Roman',serif" font-weight="normal" font-size="47.80" fill="#111">3,000</text>
<text transform="translate(989.51 4143.80) scale(1.0600 1)" font-family="'Liberation Serif','Times New Roman',serif" font-weight="normal" font-size="47.80" fill="#111">4,000</text>
<text transform="translate(1196.39 4143.80) scale(1.0600 1)" font-family="'Liberation Serif','Times New Roman',serif" font-weight="normal" font-size="47.80" fill="#111">5,000</text>
<text transform="translate(1401.27 4143.80) scale(1.0600 1)" font-family="'Liberation Serif','Times New Roman',serif" font-weight="normal" font-size="47.80" fill="#111">6,000</text>
<text transform="translate(65.11 3881.87) rotate(-90) scale(1 1.0005)" font-family="'Liberation Serif','Times New Roman',serif" font-weight="bold" font-size="69.37" fill="#000">Compressive stress (MPa)</text>
<text transform="translate(629.57 4234.23) scale(1.0602 1)" font-family="'Liberation Serif','Times New Roman',serif" font-weight="bold" font-size="67.46" fill="#000">Strain</text>
<text transform="translate(823.19 4235.11) scale(1.0869 1)" font-family="'Liberation Serif','Times New Roman',serif" font-weight="normal" font-size="65.67" fill="#000">(</text>
<text transform="translate(851.96 4238.94) scale(1.0400 1)" font-family="'Liberation Serif','Times New Roman',serif" font-weight="bold" font-size="72.29" fill="#000">×</text>
<text transform="translate(898.52 4234.84) scale(1.1152 1)" font-family="'Liberation Serif','Times New Roman',serif" font-weight="bold" font-size="65.93" fill="#000">10</text>
<text transform="translate(972.80 4212.30) scale(1.3558 1)" font-family="'Liberation Serif','Times New Roman',serif" font-weight="bold" font-size="40.00" fill="#000">-</text>
<text transform="translate(990.10 4211.79) scale(1.1146 1)" font-family="'Liberation Serif','Times New Roman',serif" font-weight="bold" font-size="41.04" fill="#000">6</text>
<text transform="translate(1015.00 4235.11) scale(1.0133 1)" font-family="'Liberation Serif','Times New Roman',serif" font-weight="normal" font-size="65.67" fill="#000">)</text>
<text transform="translate(729.60 4331.85) scale(0.8780 1)" font-family="'Liberation Serif','Times New Roman',serif" font-weight="normal" font-size="68.33" fill="#000">(</text>
<text transform="translate(752.62 4330.55) scale(1.0403 1)" font-family="'Liberation Serif','Times New Roman',serif" font-weight="bold" font-size="65.42" fill="#000">c</text>
<text transform="translate(786.93 4331.85) scale(0.8612 1)" font-family="'Liberation Serif','Times New Roman',serif" font-weight="normal" font-size="68.33" fill="#000">)</text>
<rect x="989.2" y="3758.5" width="458.39999999999986" height="273.1999999999998" fill="#fff" stroke="#000" stroke-width="2.6"/>
<line x1="989.2" y1="3834.3" x2="1447.6" y2="3834.3" stroke="#000" stroke-width="2.6"/>
<text transform="translate(1127.40 3810.00) scale(1.1662 1)" font-family="'Liberation Serif','Times New Roman',serif" font-weight="normal" font-size="37.10" fill="#000">Filler type</text>
<line x1="1019" y1="3883.4" x2="1113.3" y2="3883.4" stroke="#8a8a8a" stroke-width="3"/>
<text transform="translate(1123.42 3893.39) scale(0.9099 1)" font-family="'Liberation Sans',Arial,sans-serif" font-weight="normal" font-size="31.27" fill="#262626">SF</text>
<line x1="1249" y1="3883.4" x2="1334.9" y2="3883.4" stroke="#aa5426" stroke-width="3" stroke-dasharray="29 12 4 12"/>
<text transform="translate(1352.59 3893.39) scale(0.9670 1)" font-family="'Liberation Sans',Arial,sans-serif" font-weight="normal" font-size="31.27" fill="#262626">GCC</text>
<line x1="1019" y1="3983.4" x2="1113.3" y2="3983.4" stroke="#55964f" stroke-width="3" stroke-dasharray="28 12"/>
<text transform="translate(1123.11 3992.41) scale(1.0154 1)" font-family="'Liberation Sans',Arial,sans-serif" font-weight="normal" font-size="29.44" fill="#262626">BFS</text>
<line x1="1249" y1="3983.4" x2="1334.9" y2="3983.4" stroke="#133f80" stroke-width="3" stroke-dasharray="10.5 4"/>
<text transform="translate(1351.43 3992.39) scale(1.0835 1)" font-family="'Liberation Sans',Arial,sans-serif" font-weight="normal" font-size="30.85" fill="#262626">FA</text>
</svg></body></html>
